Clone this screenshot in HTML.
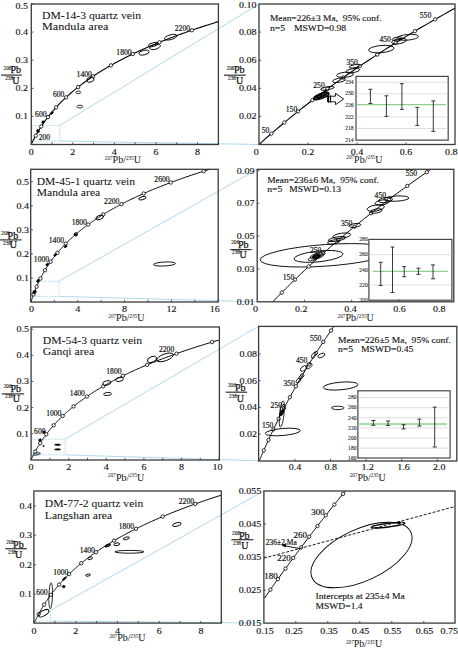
<!DOCTYPE html><html><head><meta charset="utf-8"><style>html,body{margin:0;padding:0;background:#fff;width:458px;height:649px;overflow:hidden}svg{display:block}</style></head><body><svg width="458" height="649" viewBox="0 0 458 649" font-family='"Liberation Serif", serif'>
<rect width="458" height="649" fill="#fff"/>
<line x1="59.70" y1="125.40" x2="259.00" y2="4.00" stroke="#a6d5ea" stroke-width="0.9"/>
<line x1="59.70" y1="141.10" x2="259.00" y2="144.50" stroke="#a6d5ea" stroke-width="0.9"/>
<rect x="31.8" y="125.4" width="27.9" height="15.7" fill="none" stroke="#a6d5ea" stroke-width="0.9" stroke-dasharray="1.6 1.2"/>
<polyline points="31.41,144.06 31.61,143.63 31.82,143.19 32.04,142.75 32.25,142.31 32.47,141.87 32.68,141.43 32.90,140.99 33.13,140.55 33.35,140.11 33.58,139.66 33.81,139.22 34.04,138.78 34.27,138.33 34.51,137.88 34.75,137.44 34.99,136.99 35.23,136.54 35.48,136.09 35.73,135.65 35.98,135.20 36.23,134.74 36.49,134.29 36.74,133.84 37.00,133.39 37.27,132.93 37.53,132.48 37.80,132.03 38.07,131.57 38.35,131.11 38.62,130.66 38.90,130.20 39.18,129.74 39.47,129.28 39.76,128.82 40.05,128.36 40.34,127.90 40.64,127.44 40.94,126.98 41.24,126.51 41.54,126.05 41.85,125.58 42.16,125.12 42.48,124.65 42.79,124.18 43.11,123.72 43.44,123.25 43.76,122.78 44.09,122.31 44.43,121.84 44.76,121.37 45.10,120.89 45.45,120.42 45.80,119.95 46.15,119.47 46.50,119.00 46.86,118.52 47.22,118.05 47.58,117.57 47.95,117.09 48.32,116.61 48.70,116.13 49.07,115.65 49.46,115.17 49.84,114.69 50.23,114.21 50.63,113.72 51.03,113.24 51.43,112.75 51.83,112.27 52.24,111.78 52.66,111.30 53.08,110.81 53.50,110.32 53.93,109.83 54.36,109.34 54.79,108.85 55.23,108.36 55.67,107.86 56.12,107.37 56.57,106.88 57.03,106.38 57.49,105.89 57.96,105.39 58.43,104.89 58.90,104.40 59.38,103.90 59.87,103.40 60.36,102.90 60.85,102.40 61.35,101.90 61.86,101.39 62.37,100.89 62.88,100.39 63.40,99.88 63.92,99.38 64.45,98.87 64.99,98.36 65.53,97.86 66.07,97.35 66.62,96.84 67.18,96.33 67.74,95.82 68.31,95.30 68.88,94.79 69.46,94.28 70.05,93.76 70.64,93.25 71.23,92.73 71.83,92.22 72.44,91.70 73.06,91.18 73.68,90.66 74.30,90.14 74.93,89.62 75.57,89.10 76.22,88.58 76.87,88.06 77.53,87.53 78.19,87.01 78.86,86.48 79.54,85.95 80.22,85.43 80.92,84.90 81.61,84.37 82.32,83.84 83.03,83.31 83.75,82.78 84.47,82.25 85.21,81.71 85.95,81.18 86.69,80.65 87.45,80.11 88.21,79.57 88.98,79.04 89.76,78.50 90.55,77.96 91.34,77.42 92.14,76.88 92.95,76.34 93.77,75.80 94.59,75.26 95.42,74.71 96.26,74.17 97.11,73.62 97.97,73.08 98.84,72.53 99.71,71.98 100.60,71.43 101.49,70.88 102.39,70.33 103.30,69.78 104.22,69.23 105.15,68.67 106.09,68.12 107.04,67.57 107.99,67.01 108.96,66.45 109.93,65.90 110.92,65.34 111.91,64.78 112.92,64.22 113.93,63.66 114.96,63.10 115.99,62.53 117.04,61.97 118.09,61.41 119.16,60.84 120.23,60.27 121.32,59.71 122.42,59.14 123.53,58.57 124.65,58.00 125.78,57.43 126.92,56.86 128.07,56.29 129.24,55.71 130.41,55.14 131.60,54.56 132.80,53.99 134.01,53.41 135.23,52.83 136.47,52.26 137.72,51.68 138.98,51.10 140.25,50.51 141.53,49.93 142.83,49.35 144.14,48.77 145.47,48.18 146.80,47.59 148.15,47.01 149.52,46.42 150.89,45.83 152.28,45.24 153.69,44.65 155.10,44.06 156.54,43.47 157.98,42.88 159.44,42.28 160.92,41.69 162.41,41.09 163.91,40.49 165.43,39.90 166.97,39.30 168.52,38.70 170.08,38.10 171.66,37.50 173.26,36.89 174.87,36.29 176.50,35.69 178.14,35.08 179.80,34.48 181.48,33.87 183.17,33.26 184.88,32.65 186.61,32.04 188.35,31.43 190.11,30.82 191.89,30.21 193.69,29.59 195.50,28.98 197.33,28.36 199.18,27.75 201.05,27.13 202.94,26.51 204.84,25.89 206.77,25.27 208.71,24.65 210.67,24.03 212.65,23.40 214.66,22.78 216.68,22.15 218.40,21.63" fill="none" stroke="#000" stroke-width="1.1"/>
<circle cx="35.73" cy="135.65" r="1.7" stroke="#000" stroke-width="0.8" fill="#fff"/>
<circle cx="41.24" cy="126.51" r="1.7" stroke="#000" stroke-width="0.8" fill="#fff"/>
<circle cx="47.95" cy="117.09" r="1.7" stroke="#000" stroke-width="0.8" fill="#fff"/>
<circle cx="56.12" cy="107.37" r="1.7" stroke="#000" stroke-width="0.8" fill="#fff"/>
<circle cx="66.07" cy="97.35" r="1.7" stroke="#000" stroke-width="0.8" fill="#fff"/>
<circle cx="78.19" cy="87.01" r="1.7" stroke="#000" stroke-width="0.8" fill="#fff"/>
<circle cx="92.95" cy="76.34" r="1.7" stroke="#000" stroke-width="0.8" fill="#fff"/>
<circle cx="110.92" cy="65.34" r="1.7" stroke="#000" stroke-width="0.8" fill="#fff"/>
<circle cx="132.80" cy="53.99" r="1.7" stroke="#000" stroke-width="0.8" fill="#fff"/>
<circle cx="159.44" cy="42.28" r="1.7" stroke="#000" stroke-width="0.8" fill="#fff"/>
<circle cx="191.89" cy="30.21" r="1.7" stroke="#000" stroke-width="0.8" fill="#fff"/>
<ellipse cx="170.70" cy="37.20" rx="6.50" ry="2.40" transform="rotate(-15 170.70 37.20)" stroke="#000" stroke-width="0.9" fill="none"/>
<ellipse cx="155.00" cy="46.90" rx="5.50" ry="2.40" transform="rotate(-15 155.00 46.90)" stroke="#000" stroke-width="0.9" fill="none"/>
<ellipse cx="153.20" cy="44.60" rx="5.00" ry="1.80" transform="rotate(-15 153.20 44.60)" stroke="#000" stroke-width="0.9" fill="none"/>
<ellipse cx="144.00" cy="52.60" rx="5.20" ry="2.20" transform="rotate(-12 144.00 52.60)" stroke="#000" stroke-width="0.9" fill="none"/>
<ellipse cx="90.40" cy="79.60" rx="3.70" ry="2.50" transform="rotate(-20 90.40 79.60)" stroke="#000" stroke-width="0.9" fill="none"/>
<ellipse cx="78.30" cy="92.40" rx="2.50" ry="1.30" transform="rotate(0 78.30 92.40)" stroke="#000" stroke-width="0.8" fill="none"/>
<ellipse cx="79.90" cy="106.60" rx="3.00" ry="1.40" transform="rotate(0 79.90 106.60)" stroke="#000" stroke-width="0.8" fill="none"/>
<ellipse cx="51.80" cy="113.00" rx="1.60" ry="1.00" transform="rotate(-40 51.80 113.00)" stroke="#000" stroke-width="0.8" fill="#000"/>
<ellipse cx="43.00" cy="122.00" rx="1.30" ry="1.00" transform="rotate(-50 43.00 122.00)" stroke="#000" stroke-width="0.8" fill="#000"/>
<ellipse cx="38.00" cy="131.00" rx="1.20" ry="1.60" transform="rotate(-30 38.00 131.00)" stroke="#000" stroke-width="0.8" fill="#000"/>
<rect x="31.30" y="4.00" width="187.10" height="140.50" stroke="#3a3a3a" stroke-width="1.3" fill="none"/>
<line x1="31.20" y1="144.50" x2="31.20" y2="142.30" stroke="#3a3a3a" stroke-width="0.8"/>
<line x1="51.99" y1="144.50" x2="51.99" y2="142.30" stroke="#3a3a3a" stroke-width="0.8"/>
<line x1="72.78" y1="144.50" x2="72.78" y2="142.30" stroke="#3a3a3a" stroke-width="0.8"/>
<line x1="93.57" y1="144.50" x2="93.57" y2="142.30" stroke="#3a3a3a" stroke-width="0.8"/>
<line x1="114.36" y1="144.50" x2="114.36" y2="142.30" stroke="#3a3a3a" stroke-width="0.8"/>
<line x1="135.15" y1="144.50" x2="135.15" y2="142.30" stroke="#3a3a3a" stroke-width="0.8"/>
<line x1="155.94" y1="144.50" x2="155.94" y2="142.30" stroke="#3a3a3a" stroke-width="0.8"/>
<line x1="176.73" y1="144.50" x2="176.73" y2="142.30" stroke="#3a3a3a" stroke-width="0.8"/>
<line x1="197.52" y1="144.50" x2="197.52" y2="142.30" stroke="#3a3a3a" stroke-width="0.8"/>
<line x1="218.31" y1="144.50" x2="218.31" y2="142.30" stroke="#3a3a3a" stroke-width="0.8"/>
<line x1="31.30" y1="116.40" x2="33.50" y2="116.40" stroke="#3a3a3a" stroke-width="0.8"/>
<line x1="31.30" y1="88.30" x2="33.50" y2="88.30" stroke="#3a3a3a" stroke-width="0.8"/>
<line x1="31.30" y1="60.20" x2="33.50" y2="60.20" stroke="#3a3a3a" stroke-width="0.8"/>
<line x1="31.30" y1="32.10" x2="33.50" y2="32.10" stroke="#3a3a3a" stroke-width="0.8"/>
<line x1="31.30" y1="4.00" x2="33.50" y2="4.00" stroke="#3a3a3a" stroke-width="0.8"/>
<text x="31.20" y="154.90" font-size="8.2" text-anchor="middle" font-weight="normal" fill="#111" textLength="5.00" lengthAdjust="spacingAndGlyphs" style="white-space:pre" stroke="#111" stroke-width="0.12">0</text>
<text x="72.78" y="154.90" font-size="8.2" text-anchor="middle" font-weight="normal" fill="#111" textLength="5.00" lengthAdjust="spacingAndGlyphs" style="white-space:pre" stroke="#111" stroke-width="0.12">2</text>
<text x="114.36" y="154.90" font-size="8.2" text-anchor="middle" font-weight="normal" fill="#111" textLength="5.00" lengthAdjust="spacingAndGlyphs" style="white-space:pre" stroke="#111" stroke-width="0.12">4</text>
<text x="155.94" y="154.90" font-size="8.2" text-anchor="middle" font-weight="normal" fill="#111" textLength="5.00" lengthAdjust="spacingAndGlyphs" style="white-space:pre" stroke="#111" stroke-width="0.12">6</text>
<text x="197.52" y="154.90" font-size="8.2" text-anchor="middle" font-weight="normal" fill="#111" textLength="5.00" lengthAdjust="spacingAndGlyphs" style="white-space:pre" stroke="#111" stroke-width="0.12">8</text>
<text x="27.90" y="119.30" font-size="8.2" text-anchor="end" font-weight="normal" fill="#111" textLength="12.50" lengthAdjust="spacingAndGlyphs" style="white-space:pre" stroke="#111" stroke-width="0.12">0.1</text>
<text x="27.90" y="91.20" font-size="8.2" text-anchor="end" font-weight="normal" fill="#111" textLength="12.50" lengthAdjust="spacingAndGlyphs" style="white-space:pre" stroke="#111" stroke-width="0.12">0.2</text>
<text x="27.90" y="63.10" font-size="8.2" text-anchor="end" font-weight="normal" fill="#111" textLength="12.50" lengthAdjust="spacingAndGlyphs" style="white-space:pre" stroke="#111" stroke-width="0.12">0.3</text>
<text x="27.90" y="35.00" font-size="8.2" text-anchor="end" font-weight="normal" fill="#111" textLength="12.50" lengthAdjust="spacingAndGlyphs" style="white-space:pre" stroke="#111" stroke-width="0.12">0.4</text>
<text x="27.90" y="8.70" font-size="8.2" text-anchor="end" font-weight="normal" fill="#111" textLength="12.50" lengthAdjust="spacingAndGlyphs" style="white-space:pre" stroke="#111" stroke-width="0.12">0.5</text>
<text x="42.00" y="19.30" font-size="10.2" text-anchor="start" font-weight="normal" fill="#111" textLength="99.00" lengthAdjust="spacingAndGlyphs" style="white-space:pre" stroke="#111" stroke-width="0.05">DM-14-3 quartz vein</text>
<text x="42.00" y="30.30" font-size="10.2" text-anchor="start" font-weight="normal" fill="#111" textLength="66.50" lengthAdjust="spacingAndGlyphs" style="white-space:pre" stroke="#111" stroke-width="0.05">Mandula area</text>
<text x="44.40" y="140.00" font-size="7.2" text-anchor="middle" font-weight="normal" fill="#111" textLength="11.45" lengthAdjust="spacingAndGlyphs" style="white-space:pre" stroke="#111" stroke-width="0.18">200</text>
<text x="40.80" y="117.00" font-size="7.2" text-anchor="middle" font-weight="normal" fill="#111" textLength="11.45" lengthAdjust="spacingAndGlyphs" style="white-space:pre" stroke="#111" stroke-width="0.18">600</text>
<text x="58.70" y="97.40" font-size="7.2" text-anchor="middle" font-weight="normal" fill="#111" textLength="11.45" lengthAdjust="spacingAndGlyphs" style="white-space:pre" stroke="#111" stroke-width="0.18">600</text>
<text x="84.20" y="76.80" font-size="7.2" text-anchor="middle" font-weight="normal" fill="#111" textLength="15.26" lengthAdjust="spacingAndGlyphs" style="white-space:pre" stroke="#111" stroke-width="0.18">1400</text>
<text x="124.00" y="54.60" font-size="7.2" text-anchor="middle" font-weight="normal" fill="#111" textLength="15.26" lengthAdjust="spacingAndGlyphs" style="white-space:pre" stroke="#111" stroke-width="0.18">1800</text>
<text x="182.40" y="31.00" font-size="7.2" text-anchor="middle" font-weight="normal" fill="#111" textLength="15.26" lengthAdjust="spacingAndGlyphs" style="white-space:pre" stroke="#111" stroke-width="0.18">2200</text>
<text x="3.50" y="69.60" font-size="5.3" text-anchor="start" font-weight="normal" fill="#111" style="white-space:pre" stroke="#111" stroke-width="0.1">206</text>
<text x="10.50" y="73.30" font-size="10" text-anchor="start" font-weight="normal" fill="#111" style="white-space:pre" stroke="#111" stroke-width="0.25">Pb</text>
<line x1="1.00" y1="75.10" x2="21.80" y2="75.10" stroke="#333" stroke-width="1.2"/>
<text x="5.20" y="80.10" font-size="5.3" text-anchor="start" font-weight="normal" fill="#111" style="white-space:pre" stroke="#111" stroke-width="0.1">238</text>
<text x="12.20" y="83.80" font-size="10" text-anchor="start" font-weight="normal" fill="#111" style="white-space:pre" stroke="#111" stroke-width="0.25">U</text>
<text x="104.80" y="163.40" font-size="10" fill="#111"><tspan font-size="5.2" dy="-3.8">207</tspan><tspan dy="3.8">Pb/</tspan><tspan font-size="5.2" dy="-3.8">235</tspan><tspan dy="3.8">U</tspan></text>
<polyline points="259.00,144.50 261.42,142.32 263.87,140.13 266.35,137.95 268.84,135.75 271.37,133.56 273.91,131.36 276.49,129.16 279.08,126.96 281.71,124.75 284.36,122.54 287.03,120.32 289.73,118.10 292.46,115.88 295.22,113.65 298.00,111.42 300.81,109.19 303.65,106.96 306.52,104.72 309.41,102.47 312.34,100.23 315.29,97.98 318.27,95.72 321.28,93.47 324.33,91.21 327.40,88.94 330.50,86.67 333.63,84.40 336.79,82.13 339.99,79.85 343.22,77.57 346.47,75.28 349.76,73.00 353.09,70.70 356.44,68.41 359.83,66.11 363.26,63.81 366.71,61.50 370.20,59.19 373.73,56.88 377.29,54.56 380.88,52.24 384.52,49.91 388.18,47.58 391.89,45.25 395.63,42.92 399.40,40.58 403.22,38.24 407.07,35.89 410.96,33.54 414.89,31.19 418.86,28.83 422.86,26.47 426.91,24.10 431.00,21.74 435.12,19.36 439.29,16.99 443.50,14.61 447.75,12.23 452.04,9.84 455.00,8.21" fill="none" stroke="#000" stroke-width="1.1"/>
<circle cx="271.37" cy="133.56" r="1.7" stroke="#000" stroke-width="0.8" fill="#fff"/>
<circle cx="284.36" cy="122.54" r="1.7" stroke="#000" stroke-width="0.8" fill="#fff"/>
<circle cx="298.00" cy="111.42" r="1.7" stroke="#000" stroke-width="0.8" fill="#fff"/>
<circle cx="312.34" cy="100.23" r="1.7" stroke="#000" stroke-width="0.8" fill="#fff"/>
<circle cx="327.40" cy="88.94" r="1.7" stroke="#000" stroke-width="0.8" fill="#fff"/>
<circle cx="343.22" cy="77.57" r="1.7" stroke="#000" stroke-width="0.8" fill="#fff"/>
<circle cx="359.83" cy="66.11" r="1.7" stroke="#000" stroke-width="0.8" fill="#fff"/>
<circle cx="377.29" cy="54.56" r="1.7" stroke="#000" stroke-width="0.8" fill="#fff"/>
<circle cx="395.63" cy="42.92" r="1.7" stroke="#000" stroke-width="0.8" fill="#fff"/>
<circle cx="414.89" cy="31.19" r="1.7" stroke="#000" stroke-width="0.8" fill="#fff"/>
<circle cx="435.12" cy="19.36" r="1.7" stroke="#000" stroke-width="0.8" fill="#fff"/>
<rect x="356.00" y="76.40" width="92.20" height="63.70" stroke="#444" stroke-width="1.2" fill="#fff"/>
<line x1="356.50" y1="128.52" x2="447.70" y2="128.52" stroke="#d0d0d0" stroke-width="0.7"/>
<line x1="356.50" y1="116.94" x2="447.70" y2="116.94" stroke="#d0d0d0" stroke-width="0.7"/>
<line x1="356.50" y1="93.77" x2="447.70" y2="93.77" stroke="#d0d0d0" stroke-width="0.7"/>
<line x1="356.50" y1="82.19" x2="447.70" y2="82.19" stroke="#d0d0d0" stroke-width="0.7"/>
<line x1="356.50" y1="104.60" x2="446.00" y2="104.60" stroke="#8fd08f" stroke-width="1.3"/>
<text x="353.60" y="141.80" font-size="5.6" text-anchor="end" font-weight="normal" fill="#222" textLength="8.40" lengthAdjust="spacingAndGlyphs" style="white-space:pre" stroke="#222" stroke-width="0.1">214</text>
<text x="353.60" y="130.22" font-size="5.6" text-anchor="end" font-weight="normal" fill="#222" textLength="8.40" lengthAdjust="spacingAndGlyphs" style="white-space:pre" stroke="#222" stroke-width="0.1">218</text>
<text x="353.60" y="118.64" font-size="5.6" text-anchor="end" font-weight="normal" fill="#222" textLength="8.40" lengthAdjust="spacingAndGlyphs" style="white-space:pre" stroke="#222" stroke-width="0.1">222</text>
<text x="353.60" y="107.05" font-size="5.6" text-anchor="end" font-weight="normal" fill="#222" textLength="8.40" lengthAdjust="spacingAndGlyphs" style="white-space:pre" stroke="#222" stroke-width="0.1">226</text>
<text x="353.60" y="95.47" font-size="5.6" text-anchor="end" font-weight="normal" fill="#222" textLength="8.40" lengthAdjust="spacingAndGlyphs" style="white-space:pre" stroke="#222" stroke-width="0.1">230</text>
<text x="353.60" y="83.89" font-size="5.6" text-anchor="end" font-weight="normal" fill="#222" textLength="8.40" lengthAdjust="spacingAndGlyphs" style="white-space:pre" stroke="#222" stroke-width="0.1">234</text>
<line x1="370.40" y1="89.30" x2="370.40" y2="103.50" stroke="#222" stroke-width="0.9"/>
<line x1="368.40" y1="89.30" x2="372.40" y2="89.30" stroke="#222" stroke-width="0.9"/>
<line x1="368.40" y1="103.50" x2="372.40" y2="103.50" stroke="#222" stroke-width="0.9"/>
<line x1="386.40" y1="95.80" x2="386.40" y2="116.40" stroke="#222" stroke-width="0.9"/>
<line x1="384.40" y1="95.80" x2="388.40" y2="95.80" stroke="#222" stroke-width="0.9"/>
<line x1="384.40" y1="116.40" x2="388.40" y2="116.40" stroke="#222" stroke-width="0.9"/>
<line x1="401.90" y1="83.70" x2="401.90" y2="109.40" stroke="#222" stroke-width="0.9"/>
<line x1="399.90" y1="83.70" x2="403.90" y2="83.70" stroke="#222" stroke-width="0.9"/>
<line x1="399.90" y1="109.40" x2="403.90" y2="109.40" stroke="#222" stroke-width="0.9"/>
<line x1="417.30" y1="107.40" x2="417.30" y2="125.40" stroke="#222" stroke-width="0.9"/>
<line x1="415.30" y1="107.40" x2="419.30" y2="107.40" stroke="#222" stroke-width="0.9"/>
<line x1="415.30" y1="125.40" x2="419.30" y2="125.40" stroke="#222" stroke-width="0.9"/>
<line x1="433.30" y1="100.90" x2="433.30" y2="131.30" stroke="#222" stroke-width="0.9"/>
<line x1="431.30" y1="100.90" x2="435.30" y2="100.90" stroke="#222" stroke-width="0.9"/>
<line x1="431.30" y1="131.30" x2="435.30" y2="131.30" stroke="#222" stroke-width="0.9"/>
<ellipse cx="381.30" cy="49.10" rx="12.80" ry="3.60" transform="rotate(-5 381.30 49.10)" stroke="#000" stroke-width="0.9" fill="none"/>
<ellipse cx="407.80" cy="37.30" rx="10.80" ry="2.80" transform="rotate(-5 407.80 37.30)" stroke="#000" stroke-width="0.9" fill="none"/>
<ellipse cx="399.00" cy="41.20" rx="7.50" ry="2.50" transform="rotate(-10 399.00 41.20)" stroke="#000" stroke-width="0.9" fill="none"/>
<ellipse cx="397.00" cy="38.70" rx="5.00" ry="1.50" transform="rotate(-10 397.00 38.70)" stroke="#000" stroke-width="0.9" fill="none"/>
<ellipse cx="354.70" cy="66.20" rx="5.50" ry="1.50" transform="rotate(-10 354.70 66.20)" stroke="#000" stroke-width="0.9" fill="none"/>
<ellipse cx="352.80" cy="70.70" rx="7.00" ry="2.00" transform="rotate(-10 352.80 70.70)" stroke="#000" stroke-width="0.9" fill="none"/>
<ellipse cx="345.00" cy="74.80" rx="8.50" ry="2.50" transform="rotate(-5 345.00 74.80)" stroke="#000" stroke-width="0.9" fill="none"/>
<ellipse cx="339.00" cy="80.30" rx="6.50" ry="2.00" transform="rotate(-10 339.00 80.30)" stroke="#000" stroke-width="0.9" fill="none"/>
<ellipse cx="327.50" cy="88.30" rx="7.00" ry="1.50" transform="rotate(-10 327.50 88.30)" stroke="#000" stroke-width="0.9" fill="none"/>
<ellipse cx="321.40" cy="96.00" rx="8.00" ry="2.50" transform="rotate(-20 321.40 96.00)" stroke="#000" stroke-width="1.4" fill="none"/>
<ellipse cx="322.00" cy="95.00" rx="6.00" ry="1.80" transform="rotate(-25 322.00 95.00)" stroke="#000" stroke-width="1.4" fill="#222"/>
<ellipse cx="318.00" cy="97.00" rx="4.00" ry="1.50" transform="rotate(-25 318.00 97.00)" stroke="#000" stroke-width="1.2" fill="none"/>
<path d="M327.5,96.2 L335.5,96.2 L335.5,93.3 L343.6,99 L335.5,104.7 L335.5,101.8 L327.5,101.8 Z" fill="#fff" stroke="#000" stroke-width="0.9"/>
<line x1="328.50" y1="95.50" x2="328.50" y2="102.50" stroke="#000" stroke-width="1.4"/>
<line x1="330.60" y1="95.50" x2="330.60" y2="102.50" stroke="#000" stroke-width="1.0"/>
<rect x="259.00" y="4.00" width="196.00" height="140.50" stroke="#3a3a3a" stroke-width="1.3" fill="none"/>
<line x1="308.00" y1="144.50" x2="308.00" y2="142.30" stroke="#3a3a3a" stroke-width="0.8"/>
<line x1="357.00" y1="144.50" x2="357.00" y2="142.30" stroke="#3a3a3a" stroke-width="0.8"/>
<line x1="406.00" y1="144.50" x2="406.00" y2="142.30" stroke="#3a3a3a" stroke-width="0.8"/>
<line x1="259.00" y1="116.40" x2="261.20" y2="116.40" stroke="#3a3a3a" stroke-width="0.8"/>
<line x1="259.00" y1="88.30" x2="261.20" y2="88.30" stroke="#3a3a3a" stroke-width="0.8"/>
<line x1="259.00" y1="60.20" x2="261.20" y2="60.20" stroke="#3a3a3a" stroke-width="0.8"/>
<line x1="259.00" y1="32.10" x2="261.20" y2="32.10" stroke="#3a3a3a" stroke-width="0.8"/>
<text x="256.20" y="154.90" font-size="8.2" text-anchor="middle" font-weight="normal" fill="#111" textLength="5.00" lengthAdjust="spacingAndGlyphs" style="white-space:pre" stroke="#111" stroke-width="0.12">0</text>
<text x="308.00" y="154.90" font-size="8.2" text-anchor="middle" font-weight="normal" fill="#111" textLength="12.50" lengthAdjust="spacingAndGlyphs" style="white-space:pre" stroke="#111" stroke-width="0.12">0.2</text>
<text x="357.00" y="154.90" font-size="8.2" text-anchor="middle" font-weight="normal" fill="#111" textLength="12.50" lengthAdjust="spacingAndGlyphs" style="white-space:pre" stroke="#111" stroke-width="0.12">0.4</text>
<text x="406.00" y="154.90" font-size="8.2" text-anchor="middle" font-weight="normal" fill="#111" textLength="12.50" lengthAdjust="spacingAndGlyphs" style="white-space:pre" stroke="#111" stroke-width="0.12">0.6</text>
<text x="451.30" y="154.90" font-size="8.2" text-anchor="middle" font-weight="normal" fill="#111" textLength="12.50" lengthAdjust="spacingAndGlyphs" style="white-space:pre" stroke="#111" stroke-width="0.12">0.8</text>
<text x="256.60" y="119.30" font-size="8.2" text-anchor="end" font-weight="normal" fill="#111" textLength="17.51" lengthAdjust="spacingAndGlyphs" style="white-space:pre" stroke="#111" stroke-width="0.12">0.02</text>
<text x="256.60" y="91.20" font-size="8.2" text-anchor="end" font-weight="normal" fill="#111" textLength="17.51" lengthAdjust="spacingAndGlyphs" style="white-space:pre" stroke="#111" stroke-width="0.12">0.04</text>
<text x="256.60" y="63.10" font-size="8.2" text-anchor="end" font-weight="normal" fill="#111" textLength="17.51" lengthAdjust="spacingAndGlyphs" style="white-space:pre" stroke="#111" stroke-width="0.12">0.06</text>
<text x="256.60" y="35.00" font-size="8.2" text-anchor="end" font-weight="normal" fill="#111" textLength="17.51" lengthAdjust="spacingAndGlyphs" style="white-space:pre" stroke="#111" stroke-width="0.12">0.08</text>
<text x="256.60" y="7.60" font-size="8.2" text-anchor="end" font-weight="normal" fill="#111" textLength="17.51" lengthAdjust="spacingAndGlyphs" style="white-space:pre" stroke="#111" stroke-width="0.12">0.10</text>
<text x="269.90" y="21.10" font-size="8.7" text-anchor="start" font-weight="normal" fill="#111" textLength="111.60" lengthAdjust="spacingAndGlyphs" style="white-space:pre" stroke="#111" stroke-width="0.12">Mean=226±3 Ma,  95% conf.</text>
<text x="269.90" y="30.90" font-size="8.7" text-anchor="start" font-weight="normal" fill="#111" textLength="15.24" lengthAdjust="spacingAndGlyphs" style="white-space:pre" stroke="#111" stroke-width="0.12">n=5</text>
<text x="293.90" y="30.90" font-size="8.7" text-anchor="start" font-weight="normal" fill="#111" textLength="52.30" lengthAdjust="spacingAndGlyphs" style="white-space:pre" stroke="#111" stroke-width="0.12">MSWD=0.98</text>
<text x="265.60" y="132.80" font-size="7.2" text-anchor="middle" font-weight="normal" fill="#111" textLength="7.63" lengthAdjust="spacingAndGlyphs" style="white-space:pre" stroke="#111" stroke-width="0.18">50</text>
<text x="291.50" y="111.50" font-size="7.2" text-anchor="middle" font-weight="normal" fill="#111" textLength="11.45" lengthAdjust="spacingAndGlyphs" style="white-space:pre" stroke="#111" stroke-width="0.18">150</text>
<text x="319.00" y="88.00" font-size="7.2" text-anchor="middle" font-weight="normal" fill="#111" textLength="11.45" lengthAdjust="spacingAndGlyphs" style="white-space:pre" stroke="#111" stroke-width="0.18">250</text>
<text x="352.20" y="65.20" font-size="7.2" text-anchor="middle" font-weight="normal" fill="#111" textLength="11.45" lengthAdjust="spacingAndGlyphs" style="white-space:pre" stroke="#111" stroke-width="0.18">350</text>
<text x="385.20" y="41.70" font-size="7.2" text-anchor="middle" font-weight="normal" fill="#111" textLength="11.45" lengthAdjust="spacingAndGlyphs" style="white-space:pre" stroke="#111" stroke-width="0.18">450</text>
<text x="425.50" y="18.00" font-size="7.2" text-anchor="middle" font-weight="normal" fill="#111" textLength="11.45" lengthAdjust="spacingAndGlyphs" style="white-space:pre" stroke="#111" stroke-width="0.18">550</text>
<text x="226.50" y="69.60" font-size="5.3" text-anchor="start" font-weight="normal" fill="#111" style="white-space:pre" stroke="#111" stroke-width="0.1">206</text>
<text x="234.00" y="73.30" font-size="10" text-anchor="start" font-weight="normal" fill="#111" style="white-space:pre" stroke="#111" stroke-width="0.25">Pb</text>
<line x1="224.00" y1="75.20" x2="245.80" y2="75.20" stroke="#333" stroke-width="1.2"/>
<text x="228.00" y="80.00" font-size="5.3" text-anchor="start" font-weight="normal" fill="#111" style="white-space:pre" stroke="#111" stroke-width="0.1">238</text>
<text x="236.00" y="83.70" font-size="10" text-anchor="start" font-weight="normal" fill="#111" style="white-space:pre" stroke="#111" stroke-width="0.25">U</text>
<text x="346.30" y="163.10" font-size="10" fill="#111"><tspan font-size="5.2" dy="-3.8">207</tspan><tspan dy="3.8">Pb/</tspan><tspan font-size="5.2" dy="-3.8">235</tspan><tspan dy="3.8">U</tspan></text>
<line x1="58.80" y1="281.30" x2="257.20" y2="169.30" stroke="#a6d5ea" stroke-width="0.9"/>
<line x1="58.80" y1="296.40" x2="257.20" y2="301.80" stroke="#a6d5ea" stroke-width="0.9"/>
<rect x="31.5" y="281.3" width="27.3" height="15.1" fill="none" stroke="#a6d5ea" stroke-width="0.9" stroke-dasharray="1.6 1.2"/>
<polyline points="31.00,302.00 31.12,301.63 31.23,301.25 31.35,300.88 31.47,300.50 31.59,300.13 31.71,299.75 31.84,299.37 31.96,299.00 32.08,298.62 32.21,298.24 32.34,297.86 32.47,297.48 32.60,297.10 32.73,296.72 32.86,296.34 33.00,295.96 33.13,295.57 33.27,295.19 33.41,294.81 33.55,294.42 33.69,294.04 33.83,293.65 33.97,293.26 34.12,292.88 34.27,292.49 34.41,292.10 34.56,291.71 34.72,291.32 34.87,290.93 35.02,290.54 35.18,290.15 35.33,289.76 35.49,289.37 35.65,288.97 35.82,288.58 35.98,288.19 36.14,287.79 36.31,287.40 36.48,287.00 36.65,286.60 36.82,286.21 36.99,285.81 37.17,285.41 37.35,285.01 37.52,284.61 37.70,284.21 37.89,283.81 38.07,283.41 38.26,283.01 38.44,282.60 38.63,282.20 38.83,281.80 39.02,281.39 39.21,280.99 39.41,280.58 39.61,280.17 39.81,279.77 40.01,279.36 40.22,278.95 40.43,278.54 40.63,278.13 40.85,277.72 41.06,277.31 41.27,276.90 41.49,276.49 41.71,276.07 41.93,275.66 42.16,275.24 42.38,274.83 42.61,274.41 42.84,274.00 43.08,273.58 43.31,273.16 43.55,272.75 43.79,272.33 44.03,271.91 44.28,271.49 44.52,271.07 44.77,270.64 45.03,270.22 45.28,269.80 45.54,269.38 45.80,268.95 46.06,268.53 46.32,268.10 46.59,267.68 46.86,267.25 47.13,266.82 47.41,266.39 47.69,265.97 47.97,265.54 48.25,265.11 48.54,264.68 48.83,264.25 49.12,263.81 49.42,263.38 49.71,262.95 50.01,262.51 50.32,262.08 50.63,261.64 50.94,261.21 51.25,260.77 51.57,260.33 51.88,259.90 52.21,259.46 52.53,259.02 52.86,258.58 53.19,258.14 53.53,257.69 53.87,257.25 54.21,256.81 54.56,256.37 54.90,255.92 55.26,255.48 55.61,255.03 55.97,254.59 56.33,254.14 56.70,253.69 57.07,253.24 57.45,252.79 57.82,252.34 58.20,251.89 58.59,251.44 58.98,250.99 59.37,250.54 59.77,250.08 60.17,249.63 60.57,249.18 60.98,248.72 61.39,248.26 61.81,247.81 62.23,247.35 62.66,246.89 63.08,246.43 63.52,245.97 63.96,245.51 64.40,245.05 64.84,244.59 65.29,244.13 65.75,243.66 66.21,243.20 66.67,242.74 67.14,242.27 67.62,241.80 68.09,241.34 68.58,240.87 69.07,240.40 69.56,239.93 70.06,239.46 70.56,238.99 71.06,238.52 71.58,238.05 72.09,237.58 72.62,237.10 73.14,236.63 73.68,236.15 74.22,235.68 74.76,235.20 75.31,234.73 75.86,234.25 76.42,233.77 76.99,233.29 77.56,232.81 78.14,232.33 78.72,231.85 79.31,231.36 79.90,230.88 80.50,230.40 81.11,229.91 81.72,229.43 82.33,228.94 82.96,228.46 83.59,227.97 84.22,227.48 84.87,226.99 85.52,226.50 86.17,226.01 86.83,225.52 87.50,225.03 88.18,224.53 88.86,224.04 89.55,223.55 90.24,223.05 90.94,222.55 91.65,222.06 92.37,221.56 93.09,221.06 93.82,220.56 94.56,220.06 95.31,219.56 96.06,219.06 96.82,218.56 97.58,218.06 98.36,217.55 99.14,217.05 99.93,216.54 100.73,216.04 101.54,215.53 102.35,215.02 103.17,214.51 104.00,214.01 104.84,213.50 105.69,212.98 106.54,212.47 107.41,211.96 108.28,211.45 109.16,210.93 110.05,210.42 110.95,209.90 111.85,209.39 112.77,208.87 113.69,208.35 114.63,207.83 115.57,207.31 116.52,206.79 117.49,206.27 118.46,205.75 119.44,205.23 120.43,204.70 121.43,204.18 122.44,203.65 123.46,203.13 124.49,202.60 125.53,202.07 126.59,201.54 127.65,201.02 128.72,200.49 129.80,199.95 130.90,199.42 132.00,198.89 133.12,198.36 134.24,197.82 135.38,197.29 136.53,196.75 137.69,196.21 138.86,195.68 140.05,195.14 141.24,194.60 142.45,194.06 143.67,193.52 144.90,192.98 146.14,192.43 147.40,191.89 148.66,191.35 149.94,190.80 151.24,190.25 152.54,189.71 153.86,189.16 155.19,188.61 156.54,188.06 157.90,187.51 159.27,186.96 160.65,186.41 162.05,185.86 163.46,185.30 164.89,184.75 166.33,184.19 167.79,183.64 169.26,183.08 170.74,182.52 172.24,181.96 173.75,181.40 175.28,180.84 176.83,180.28 178.39,179.72 179.96,179.16 181.55,178.59 183.16,178.03 184.78,177.46 186.42,176.89 188.07,176.33 189.74,175.76 191.43,175.19 193.13,174.62 194.85,174.05 196.59,173.47 198.34,172.90 200.11,172.33 201.90,171.75 203.71,171.18 205.54,170.60 207.38,170.02 209.24,169.45 209.71,169.30" fill="none" stroke="#000" stroke-width="1.0"/>
<circle cx="33.55" cy="294.42" r="1.7" stroke="#000" stroke-width="0.8" fill="#fff"/>
<circle cx="36.65" cy="286.60" r="1.7" stroke="#000" stroke-width="0.8" fill="#fff"/>
<circle cx="40.43" cy="278.54" r="1.7" stroke="#000" stroke-width="0.8" fill="#fff"/>
<circle cx="45.03" cy="270.22" r="1.7" stroke="#000" stroke-width="0.8" fill="#fff"/>
<circle cx="50.63" cy="261.64" r="1.7" stroke="#000" stroke-width="0.8" fill="#fff"/>
<circle cx="57.45" cy="252.79" r="1.7" stroke="#000" stroke-width="0.8" fill="#fff"/>
<circle cx="65.75" cy="243.66" r="1.7" stroke="#000" stroke-width="0.8" fill="#fff"/>
<circle cx="75.86" cy="234.25" r="1.7" stroke="#000" stroke-width="0.8" fill="#fff"/>
<circle cx="88.18" cy="224.53" r="1.7" stroke="#000" stroke-width="0.8" fill="#fff"/>
<circle cx="103.17" cy="214.51" r="1.7" stroke="#000" stroke-width="0.8" fill="#fff"/>
<circle cx="121.43" cy="204.18" r="1.7" stroke="#000" stroke-width="0.8" fill="#fff"/>
<circle cx="143.67" cy="193.52" r="1.7" stroke="#000" stroke-width="0.8" fill="#fff"/>
<circle cx="170.74" cy="182.52" r="1.7" stroke="#000" stroke-width="0.8" fill="#fff"/>
<circle cx="203.71" cy="171.18" r="1.7" stroke="#000" stroke-width="0.8" fill="#fff"/>
<ellipse cx="164.50" cy="264.00" rx="11.00" ry="2.00" transform="rotate(-3 164.50 264.00)" stroke="#000" stroke-width="0.9" fill="none"/>
<ellipse cx="142.40" cy="198.20" rx="3.80" ry="1.50" transform="rotate(-15 142.40 198.20)" stroke="#000" stroke-width="0.9" fill="none"/>
<ellipse cx="99.70" cy="217.40" rx="4.00" ry="2.00" transform="rotate(-20 99.70 217.40)" stroke="#000" stroke-width="0.9" fill="none"/>
<ellipse cx="75.70" cy="234.70" rx="1.50" ry="1.10" transform="rotate(0 75.70 234.70)" stroke="#000" stroke-width="0.7" fill="#000"/>
<ellipse cx="65.60" cy="246.40" rx="1.50" ry="1.00" transform="rotate(-40 65.60 246.40)" stroke="#000" stroke-width="0.8" fill="#000"/>
<ellipse cx="55.20" cy="254.90" rx="1.50" ry="1.00" transform="rotate(-40 55.20 254.90)" stroke="#000" stroke-width="0.8" fill="#000"/>
<ellipse cx="47.30" cy="264.50" rx="1.50" ry="1.00" transform="rotate(-40 47.30 264.50)" stroke="#000" stroke-width="0.8" fill="#000"/>
<ellipse cx="38.00" cy="281.00" rx="1.50" ry="1.20" transform="rotate(-50 38.00 281.00)" stroke="#000" stroke-width="0.8" fill="#000"/>
<ellipse cx="34.50" cy="292.00" rx="1.80" ry="1.50" transform="rotate(-50 34.50 292.00)" stroke="#000" stroke-width="0.8" fill="#000"/>
<rect x="30.70" y="169.30" width="187.50" height="132.70" stroke="#3a3a3a" stroke-width="1.3" fill="none"/>
<line x1="31.00" y1="302.00" x2="31.00" y2="299.80" stroke="#3a3a3a" stroke-width="0.8"/>
<line x1="54.40" y1="302.00" x2="54.40" y2="299.80" stroke="#3a3a3a" stroke-width="0.8"/>
<line x1="77.80" y1="302.00" x2="77.80" y2="299.80" stroke="#3a3a3a" stroke-width="0.8"/>
<line x1="101.20" y1="302.00" x2="101.20" y2="299.80" stroke="#3a3a3a" stroke-width="0.8"/>
<line x1="124.60" y1="302.00" x2="124.60" y2="299.80" stroke="#3a3a3a" stroke-width="0.8"/>
<line x1="148.00" y1="302.00" x2="148.00" y2="299.80" stroke="#3a3a3a" stroke-width="0.8"/>
<line x1="171.40" y1="302.00" x2="171.40" y2="299.80" stroke="#3a3a3a" stroke-width="0.8"/>
<line x1="194.80" y1="302.00" x2="194.80" y2="299.80" stroke="#3a3a3a" stroke-width="0.8"/>
<line x1="218.20" y1="302.00" x2="218.20" y2="299.80" stroke="#3a3a3a" stroke-width="0.8"/>
<line x1="30.70" y1="277.95" x2="32.90" y2="277.95" stroke="#3a3a3a" stroke-width="0.8"/>
<line x1="30.70" y1="253.90" x2="32.90" y2="253.90" stroke="#3a3a3a" stroke-width="0.8"/>
<line x1="30.70" y1="229.85" x2="32.90" y2="229.85" stroke="#3a3a3a" stroke-width="0.8"/>
<line x1="30.70" y1="205.80" x2="32.90" y2="205.80" stroke="#3a3a3a" stroke-width="0.8"/>
<line x1="30.70" y1="181.75" x2="32.90" y2="181.75" stroke="#3a3a3a" stroke-width="0.8"/>
<text x="31.50" y="311.80" font-size="8.2" text-anchor="middle" font-weight="normal" fill="#111" textLength="5.00" lengthAdjust="spacingAndGlyphs" style="white-space:pre" stroke="#111" stroke-width="0.12">0</text>
<text x="77.80" y="311.80" font-size="8.2" text-anchor="middle" font-weight="normal" fill="#111" textLength="5.00" lengthAdjust="spacingAndGlyphs" style="white-space:pre" stroke="#111" stroke-width="0.12">4</text>
<text x="124.60" y="311.80" font-size="8.2" text-anchor="middle" font-weight="normal" fill="#111" textLength="5.00" lengthAdjust="spacingAndGlyphs" style="white-space:pre" stroke="#111" stroke-width="0.12">8</text>
<text x="171.40" y="311.80" font-size="8.2" text-anchor="middle" font-weight="normal" fill="#111" textLength="10.00" lengthAdjust="spacingAndGlyphs" style="white-space:pre" stroke="#111" stroke-width="0.12">12</text>
<text x="214.70" y="311.80" font-size="8.2" text-anchor="middle" font-weight="normal" fill="#111" textLength="10.00" lengthAdjust="spacingAndGlyphs" style="white-space:pre" stroke="#111" stroke-width="0.12">16</text>
<text x="28.90" y="280.85" font-size="8.2" text-anchor="end" font-weight="normal" fill="#111" textLength="12.50" lengthAdjust="spacingAndGlyphs" style="white-space:pre" stroke="#111" stroke-width="0.12">0.1</text>
<text x="28.90" y="256.80" font-size="8.2" text-anchor="end" font-weight="normal" fill="#111" textLength="12.50" lengthAdjust="spacingAndGlyphs" style="white-space:pre" stroke="#111" stroke-width="0.12">0.2</text>
<text x="28.90" y="232.75" font-size="8.2" text-anchor="end" font-weight="normal" fill="#111" textLength="12.50" lengthAdjust="spacingAndGlyphs" style="white-space:pre" stroke="#111" stroke-width="0.12">0.3</text>
<text x="28.90" y="208.70" font-size="8.2" text-anchor="end" font-weight="normal" fill="#111" textLength="12.50" lengthAdjust="spacingAndGlyphs" style="white-space:pre" stroke="#111" stroke-width="0.12">0.4</text>
<text x="28.90" y="184.65" font-size="8.2" text-anchor="end" font-weight="normal" fill="#111" textLength="12.50" lengthAdjust="spacingAndGlyphs" style="white-space:pre" stroke="#111" stroke-width="0.12">0.5</text>
<text x="36.70" y="184.70" font-size="10.2" text-anchor="start" font-weight="normal" fill="#111" textLength="98.40" lengthAdjust="spacingAndGlyphs" style="white-space:pre" stroke="#111" stroke-width="0.05">DM-45-1 quartz vein</text>
<text x="36.70" y="196.20" font-size="10.2" text-anchor="start" font-weight="normal" fill="#111" textLength="63.50" lengthAdjust="spacingAndGlyphs" style="white-space:pre" stroke="#111" stroke-width="0.05">Mandula area</text>
<text x="41.50" y="261.50" font-size="7.2" text-anchor="middle" font-weight="normal" fill="#111" textLength="15.26" lengthAdjust="spacingAndGlyphs" style="white-space:pre" stroke="#111" stroke-width="0.18">1000</text>
<text x="56.40" y="243.40" font-size="7.2" text-anchor="middle" font-weight="normal" fill="#111" textLength="15.26" lengthAdjust="spacingAndGlyphs" style="white-space:pre" stroke="#111" stroke-width="0.18">1400</text>
<text x="79.30" y="224.50" font-size="7.2" text-anchor="middle" font-weight="normal" fill="#111" textLength="15.26" lengthAdjust="spacingAndGlyphs" style="white-space:pre" stroke="#111" stroke-width="0.18">1800</text>
<text x="111.70" y="204.00" font-size="7.2" text-anchor="middle" font-weight="normal" fill="#111" textLength="15.26" lengthAdjust="spacingAndGlyphs" style="white-space:pre" stroke="#111" stroke-width="0.18">2200</text>
<text x="162.00" y="182.00" font-size="7.2" text-anchor="middle" font-weight="normal" fill="#111" textLength="15.26" lengthAdjust="spacingAndGlyphs" style="white-space:pre" stroke="#111" stroke-width="0.18">2600</text>
<text x="1.30" y="234.90" font-size="5.3" text-anchor="start" font-weight="normal" fill="#111" style="white-space:pre" stroke="#111" stroke-width="0.1">206</text>
<text x="7.60" y="238.60" font-size="10" text-anchor="start" font-weight="normal" fill="#111" style="white-space:pre" stroke="#111" stroke-width="0.25">Pb</text>
<line x1="0.00" y1="239.90" x2="21.60" y2="239.90" stroke="#333" stroke-width="1.2"/>
<text x="3.00" y="244.70" font-size="5.3" text-anchor="start" font-weight="normal" fill="#111" style="white-space:pre" stroke="#111" stroke-width="0.1">238</text>
<text x="9.80" y="248.40" font-size="10" text-anchor="start" font-weight="normal" fill="#111" style="white-space:pre" stroke="#111" stroke-width="0.25">U</text>
<text x="108.30" y="321.40" font-size="10" fill="#111"><tspan font-size="5.2" dy="-3.8">207</tspan><tspan dy="3.8">Pb/</tspan><tspan font-size="5.2" dy="-3.8">235</tspan><tspan dy="3.8">U</tspan></text>
<ellipse cx="326.00" cy="255.30" rx="66.00" ry="10.80" transform="rotate(-4 326.00 255.30)" stroke="#000" stroke-width="0.9" fill="none"/>
<ellipse cx="318.50" cy="256.40" rx="24.50" ry="5.40" transform="rotate(-6 318.50 256.40)" stroke="#000" stroke-width="0.9" fill="none"/>
<polyline points="272.98,301.58 274.22,300.29 275.46,299.01 276.71,297.72 277.97,296.43 279.24,295.14 280.51,293.85 281.78,292.56 283.07,291.27 284.36,289.98 285.65,288.68 286.96,287.39 288.26,286.09 289.58,284.79 290.90,283.49 292.23,282.19 293.57,280.89 294.91,279.59 296.25,278.29 297.61,276.99 298.97,275.68 300.34,274.38 301.71,273.07 303.10,271.76 304.48,270.45 305.88,269.14 307.28,267.83 308.69,266.52 310.11,265.21 311.53,263.90 312.96,262.58 314.40,261.26 315.84,259.95 317.29,258.63 318.75,257.31 320.22,255.99 321.69,254.67 323.17,253.35 324.66,252.03 326.16,250.70 327.66,249.38 329.17,248.05 330.69,246.72 332.21,245.40 333.74,244.07 335.28,242.74 336.83,241.41 338.38,240.07 339.95,238.74 341.52,237.41 343.10,236.07 344.68,234.74 346.28,233.40 347.88,232.06 349.49,230.72 351.11,229.38 352.73,228.04 354.36,226.70 356.01,225.35 357.66,224.01 359.31,222.66 360.98,221.32 362.65,219.97 364.34,218.62 366.03,217.27 367.73,215.92 369.43,214.57 371.15,213.21 372.87,211.86 374.61,210.51 376.35,209.15 378.10,207.79 379.86,206.43 381.63,205.07 383.40,203.71 385.19,202.35 386.98,200.99 388.78,199.63 390.60,198.26 392.42,196.90 394.25,195.53 396.08,194.16 397.93,192.79 399.79,191.42 401.65,190.05 403.53,188.68 405.41,187.31 407.31,185.93 409.21,184.56 411.12,183.18 413.04,181.81 414.98,180.43 416.92,179.05 418.87,177.67 420.83,176.29 422.80,174.90 424.78,173.52 426.77,172.13 428.77,170.75 430.77,169.36 430.86,169.30" fill="none" stroke="#000" stroke-width="1.0"/>
<circle cx="281.78" cy="292.56" r="1.7" stroke="#000" stroke-width="0.8" fill="#fff"/>
<circle cx="294.91" cy="279.59" r="1.7" stroke="#000" stroke-width="0.8" fill="#fff"/>
<circle cx="308.69" cy="266.52" r="1.7" stroke="#000" stroke-width="0.8" fill="#fff"/>
<circle cx="323.17" cy="253.35" r="1.7" stroke="#000" stroke-width="0.8" fill="#fff"/>
<circle cx="338.38" cy="240.07" r="1.7" stroke="#000" stroke-width="0.8" fill="#fff"/>
<circle cx="354.36" cy="226.70" r="1.7" stroke="#000" stroke-width="0.8" fill="#fff"/>
<circle cx="371.15" cy="213.21" r="1.7" stroke="#000" stroke-width="0.8" fill="#fff"/>
<circle cx="388.78" cy="199.63" r="1.7" stroke="#000" stroke-width="0.8" fill="#fff"/>
<circle cx="407.31" cy="185.93" r="1.7" stroke="#000" stroke-width="0.8" fill="#fff"/>
<circle cx="426.77" cy="172.13" r="1.7" stroke="#000" stroke-width="0.8" fill="#fff"/>
<ellipse cx="396.40" cy="198.60" rx="12.50" ry="2.60" transform="rotate(-3 396.40 198.60)" stroke="#000" stroke-width="0.9" fill="none"/>
<ellipse cx="385.50" cy="200.10" rx="7.00" ry="2.50" transform="rotate(-8 385.50 200.10)" stroke="#000" stroke-width="0.9" fill="none"/>
<ellipse cx="382.00" cy="202.50" rx="7.00" ry="2.50" transform="rotate(-10 382.00 202.50)" stroke="#000" stroke-width="0.9" fill="none"/>
<ellipse cx="375.70" cy="208.00" rx="8.70" ry="3.00" transform="rotate(-10 375.70 208.00)" stroke="#000" stroke-width="0.9" fill="none"/>
<ellipse cx="376.30" cy="211.00" rx="6.00" ry="2.00" transform="rotate(-10 376.30 211.00)" stroke="#000" stroke-width="0.9" fill="none"/>
<ellipse cx="341.80" cy="235.70" rx="9.00" ry="2.50" transform="rotate(-8 341.80 235.70)" stroke="#000" stroke-width="0.9" fill="none"/>
<ellipse cx="333.50" cy="242.00" rx="6.00" ry="2.00" transform="rotate(-10 333.50 242.00)" stroke="#000" stroke-width="0.9" fill="none"/>
<ellipse cx="337.00" cy="239.00" rx="9.00" ry="2.00" transform="rotate(-10 337.00 239.00)" stroke="#000" stroke-width="0.9" fill="none"/>
<ellipse cx="354.90" cy="225.40" rx="6.00" ry="1.80" transform="rotate(-8 354.90 225.40)" stroke="#000" stroke-width="0.9" fill="none"/>
<ellipse cx="316.50" cy="256.40" rx="4.00" ry="1.60" transform="rotate(-25 316.50 256.40)" stroke="#000" stroke-width="1.2" fill="#222"/>
<ellipse cx="314.00" cy="258.00" rx="6.00" ry="2.00" transform="rotate(-20 314.00 258.00)" stroke="#000" stroke-width="0.8" fill="none"/>
<ellipse cx="319.00" cy="254.50" rx="6.00" ry="2.20" transform="rotate(-20 319.00 254.50)" stroke="#000" stroke-width="0.8" fill="none"/>
<ellipse cx="317.00" cy="256.00" rx="7.00" ry="2.60" transform="rotate(-15 317.00 256.00)" stroke="#000" stroke-width="0.8" fill="none"/>
<rect x="368.90" y="239.40" width="83.00" height="60.80" stroke="#444" stroke-width="1.2" fill="#fff"/>
<line x1="369.40" y1="285.00" x2="451.40" y2="285.00" stroke="#d0d0d0" stroke-width="0.7"/>
<line x1="369.40" y1="254.60" x2="451.40" y2="254.60" stroke="#d0d0d0" stroke-width="0.7"/>
<line x1="372.90" y1="271.30" x2="447.90" y2="271.30" stroke="#8fd08f" stroke-width="1.3"/>
<text x="367.70" y="301.90" font-size="5.6" text-anchor="end" font-weight="normal" fill="#222" textLength="8.40" lengthAdjust="spacingAndGlyphs" style="white-space:pre" stroke="#222" stroke-width="0.1">200</text>
<text x="367.70" y="286.70" font-size="5.6" text-anchor="end" font-weight="normal" fill="#222" textLength="8.40" lengthAdjust="spacingAndGlyphs" style="white-space:pre" stroke="#222" stroke-width="0.1">220</text>
<text x="367.70" y="271.50" font-size="5.6" text-anchor="end" font-weight="normal" fill="#222" textLength="8.40" lengthAdjust="spacingAndGlyphs" style="white-space:pre" stroke="#222" stroke-width="0.1">240</text>
<text x="367.70" y="256.30" font-size="5.6" text-anchor="end" font-weight="normal" fill="#222" textLength="8.40" lengthAdjust="spacingAndGlyphs" style="white-space:pre" stroke="#222" stroke-width="0.1">260</text>
<text x="367.70" y="241.10" font-size="5.6" text-anchor="end" font-weight="normal" fill="#222" textLength="8.40" lengthAdjust="spacingAndGlyphs" style="white-space:pre" stroke="#222" stroke-width="0.1">280</text>
<line x1="380.70" y1="262.30" x2="380.70" y2="285.40" stroke="#222" stroke-width="0.9"/>
<line x1="378.70" y1="262.30" x2="382.70" y2="262.30" stroke="#222" stroke-width="0.9"/>
<line x1="378.70" y1="285.40" x2="382.70" y2="285.40" stroke="#222" stroke-width="0.9"/>
<line x1="392.50" y1="247.00" x2="392.50" y2="292.50" stroke="#222" stroke-width="0.9"/>
<line x1="390.50" y1="247.00" x2="394.50" y2="247.00" stroke="#222" stroke-width="0.9"/>
<line x1="390.50" y1="292.50" x2="394.50" y2="292.50" stroke="#222" stroke-width="0.9"/>
<line x1="404.20" y1="266.60" x2="404.20" y2="276.70" stroke="#222" stroke-width="0.9"/>
<line x1="402.20" y1="266.60" x2="406.20" y2="266.60" stroke="#222" stroke-width="0.9"/>
<line x1="402.20" y1="276.70" x2="406.20" y2="276.70" stroke="#222" stroke-width="0.9"/>
<line x1="418.40" y1="268.20" x2="418.40" y2="274.30" stroke="#222" stroke-width="0.9"/>
<line x1="416.40" y1="268.20" x2="420.40" y2="268.20" stroke="#222" stroke-width="0.9"/>
<line x1="416.40" y1="274.30" x2="420.40" y2="274.30" stroke="#222" stroke-width="0.9"/>
<line x1="433.00" y1="264.90" x2="433.00" y2="278.80" stroke="#222" stroke-width="0.9"/>
<line x1="431.00" y1="264.90" x2="435.00" y2="264.90" stroke="#222" stroke-width="0.9"/>
<line x1="431.00" y1="278.80" x2="435.00" y2="278.80" stroke="#222" stroke-width="0.9"/>
<rect x="257.20" y="169.30" width="196.60" height="132.50" stroke="#3a3a3a" stroke-width="1.3" fill="none"/>
<line x1="304.52" y1="301.80" x2="304.52" y2="299.60" stroke="#3a3a3a" stroke-width="0.8"/>
<line x1="351.64" y1="301.80" x2="351.64" y2="299.60" stroke="#3a3a3a" stroke-width="0.8"/>
<line x1="398.76" y1="301.80" x2="398.76" y2="299.60" stroke="#3a3a3a" stroke-width="0.8"/>
<line x1="257.20" y1="269.00" x2="259.40" y2="269.00" stroke="#3a3a3a" stroke-width="0.8"/>
<line x1="257.20" y1="236.20" x2="259.40" y2="236.20" stroke="#3a3a3a" stroke-width="0.8"/>
<line x1="257.20" y1="203.40" x2="259.40" y2="203.40" stroke="#3a3a3a" stroke-width="0.8"/>
<line x1="257.20" y1="170.60" x2="259.40" y2="170.60" stroke="#3a3a3a" stroke-width="0.8"/>
<text x="255.50" y="311.60" font-size="8.2" text-anchor="middle" font-weight="normal" fill="#111" textLength="5.00" lengthAdjust="spacingAndGlyphs" style="white-space:pre" stroke="#111" stroke-width="0.12">0</text>
<text x="301.30" y="311.60" font-size="8.2" text-anchor="middle" font-weight="normal" fill="#111" textLength="12.50" lengthAdjust="spacingAndGlyphs" style="white-space:pre" stroke="#111" stroke-width="0.12">0.2</text>
<text x="350.50" y="311.60" font-size="8.2" text-anchor="middle" font-weight="normal" fill="#111" textLength="12.50" lengthAdjust="spacingAndGlyphs" style="white-space:pre" stroke="#111" stroke-width="0.12">0.4</text>
<text x="399.50" y="311.60" font-size="8.2" text-anchor="middle" font-weight="normal" fill="#111" textLength="12.50" lengthAdjust="spacingAndGlyphs" style="white-space:pre" stroke="#111" stroke-width="0.12">0.6</text>
<text x="439.20" y="311.60" font-size="8.2" text-anchor="middle" font-weight="normal" fill="#111" textLength="12.50" lengthAdjust="spacingAndGlyphs" style="white-space:pre" stroke="#111" stroke-width="0.12">0.8</text>
<text x="254.40" y="304.70" font-size="8.2" text-anchor="end" font-weight="normal" fill="#111" textLength="17.51" lengthAdjust="spacingAndGlyphs" style="white-space:pre" stroke="#111" stroke-width="0.12">0.01</text>
<text x="254.40" y="271.90" font-size="8.2" text-anchor="end" font-weight="normal" fill="#111" textLength="17.51" lengthAdjust="spacingAndGlyphs" style="white-space:pre" stroke="#111" stroke-width="0.12">0.03</text>
<text x="254.40" y="239.10" font-size="8.2" text-anchor="end" font-weight="normal" fill="#111" textLength="17.51" lengthAdjust="spacingAndGlyphs" style="white-space:pre" stroke="#111" stroke-width="0.12">0.05</text>
<text x="254.40" y="206.30" font-size="8.2" text-anchor="end" font-weight="normal" fill="#111" textLength="17.51" lengthAdjust="spacingAndGlyphs" style="white-space:pre" stroke="#111" stroke-width="0.12">0.07</text>
<text x="254.40" y="173.50" font-size="8.2" text-anchor="end" font-weight="normal" fill="#111" textLength="17.51" lengthAdjust="spacingAndGlyphs" style="white-space:pre" stroke="#111" stroke-width="0.12">0.09</text>
<text x="267.20" y="182.60" font-size="8.7" text-anchor="start" font-weight="normal" fill="#111" textLength="111.80" lengthAdjust="spacingAndGlyphs" style="white-space:pre" stroke="#111" stroke-width="0.12">Mean=236±6 Ma,  95% conf.</text>
<text x="267.20" y="192.40" font-size="8.7" text-anchor="start" font-weight="normal" fill="#111" textLength="15.24" lengthAdjust="spacingAndGlyphs" style="white-space:pre" stroke="#111" stroke-width="0.12">n=5</text>
<text x="289.30" y="192.40" font-size="8.7" text-anchor="start" font-weight="normal" fill="#111" textLength="51.60" lengthAdjust="spacingAndGlyphs" style="white-space:pre" stroke="#111" stroke-width="0.12">MSWD=0.13</text>
<text x="288.50" y="279.60" font-size="7.2" text-anchor="middle" font-weight="normal" fill="#111" textLength="11.45" lengthAdjust="spacingAndGlyphs" style="white-space:pre" stroke="#111" stroke-width="0.18">150</text>
<text x="315.70" y="253.40" font-size="7.2" text-anchor="middle" font-weight="normal" fill="#111" textLength="11.45" lengthAdjust="spacingAndGlyphs" style="white-space:pre" stroke="#111" stroke-width="0.18">250</text>
<text x="346.60" y="225.60" font-size="7.2" text-anchor="middle" font-weight="normal" fill="#111" textLength="11.45" lengthAdjust="spacingAndGlyphs" style="white-space:pre" stroke="#111" stroke-width="0.18">350</text>
<text x="380.30" y="198.00" font-size="7.2" text-anchor="middle" font-weight="normal" fill="#111" textLength="11.45" lengthAdjust="spacingAndGlyphs" style="white-space:pre" stroke="#111" stroke-width="0.18">450</text>
<text x="411.40" y="175.50" font-size="7.2" text-anchor="middle" font-weight="normal" fill="#111" textLength="11.45" lengthAdjust="spacingAndGlyphs" style="white-space:pre" stroke="#111" stroke-width="0.18">550</text>
<text x="231.20" y="244.10" font-size="5.3" text-anchor="start" font-weight="normal" fill="#111" style="white-space:pre" stroke="#111" stroke-width="0.1">206</text>
<text x="238.00" y="247.80" font-size="10" text-anchor="start" font-weight="normal" fill="#111" style="white-space:pre" stroke="#111" stroke-width="0.25">Pb</text>
<line x1="230.30" y1="249.60" x2="251.60" y2="249.60" stroke="#333" stroke-width="1.2"/>
<text x="232.00" y="254.40" font-size="5.3" text-anchor="start" font-weight="normal" fill="#111" style="white-space:pre" stroke="#111" stroke-width="0.1">238</text>
<text x="239.60" y="258.10" font-size="10" text-anchor="start" font-weight="normal" fill="#111" style="white-space:pre" stroke="#111" stroke-width="0.25">U</text>
<text x="337.60" y="321.40" font-size="10" fill="#111"><tspan font-size="5.2" dy="-3.8">207</tspan><tspan dy="3.8">Pb/</tspan><tspan font-size="5.2" dy="-3.8">235</tspan><tspan dy="3.8">U</tspan></text>
<line x1="65.00" y1="439.20" x2="258.60" y2="326.20" stroke="#a6d5ea" stroke-width="0.9"/>
<line x1="65.00" y1="454.90" x2="258.60" y2="460.80" stroke="#a6d5ea" stroke-width="0.9"/>
<rect x="31.6" y="439.2" width="33.4" height="15.7" fill="none" stroke="#a6d5ea" stroke-width="0.9" stroke-dasharray="1.6 1.2"/>
<polyline points="31.10,459.80 31.29,459.39 31.47,458.99 31.66,458.58 31.86,458.18 32.05,457.77 32.24,457.36 32.44,456.95 32.64,456.54 32.84,456.13 33.05,455.72 33.25,455.31 33.46,454.90 33.67,454.48 33.88,454.07 34.09,453.66 34.31,453.24 34.53,452.83 34.75,452.41 34.97,451.99 35.19,451.58 35.42,451.16 35.65,450.74 35.88,450.32 36.11,449.90 36.35,449.48 36.59,449.06 36.83,448.64 37.07,448.21 37.31,447.79 37.56,447.37 37.81,446.94 38.06,446.52 38.32,446.09 38.58,445.66 38.84,445.24 39.10,444.81 39.37,444.38 39.63,443.95 39.90,443.52 40.18,443.09 40.45,442.66 40.73,442.23 41.01,441.80 41.30,441.36 41.58,440.93 41.87,440.50 42.17,440.06 42.46,439.62 42.76,439.19 43.06,438.75 43.37,438.31 43.67,437.87 43.98,437.43 44.30,436.99 44.61,436.55 44.93,436.11 45.26,435.67 45.58,435.23 45.91,434.79 46.25,434.34 46.58,433.90 46.92,433.45 47.26,433.00 47.61,432.56 47.96,432.11 48.31,431.66 48.67,431.21 49.03,430.76 49.39,430.31 49.76,429.86 50.13,429.41 50.50,428.96 50.88,428.51 51.26,428.05 51.65,427.60 52.04,427.14 52.43,426.69 52.83,426.23 53.23,425.77 53.64,425.31 54.05,424.86 54.46,424.40 54.88,423.94 55.30,423.48 55.72,423.01 56.15,422.55 56.59,422.09 57.02,421.62 57.47,421.16 57.91,420.69 58.37,420.23 58.82,419.76 59.28,419.29 59.75,418.83 60.22,418.36 60.69,417.89 61.17,417.42 61.65,416.95 62.14,416.48 62.64,416.00 63.13,415.53 63.64,415.06 64.14,414.58 64.66,414.11 65.18,413.63 65.70,413.15 66.23,412.68 66.76,412.20 67.30,411.72 67.84,411.24 68.39,410.76 68.95,410.28 69.51,409.79 70.08,409.31 70.65,408.83 71.23,408.34 71.81,407.86 72.40,407.37 72.99,406.89 73.59,406.40 74.20,405.91 74.81,405.42 75.43,404.93 76.06,404.44 76.69,403.95 77.32,403.46 77.97,402.97 78.62,402.47 79.27,401.98 79.94,401.48 80.61,400.99 81.28,400.49 81.97,399.99 82.66,399.50 83.35,399.00 84.05,398.50 84.76,398.00 85.48,397.50 86.21,396.99 86.94,396.49 87.68,395.99 88.42,395.48 89.18,394.98 89.94,394.47 90.71,393.97 91.48,393.46 92.26,392.95 93.06,392.44 93.86,391.93 94.66,391.42 95.48,390.91 96.30,390.40 97.13,389.88 97.97,389.37 98.82,388.86 99.68,388.34 100.54,387.83 101.41,387.31 102.30,386.79 103.19,386.27 104.09,385.75 104.99,385.23 105.91,384.71 106.84,384.19 107.77,383.67 108.72,383.14 109.67,382.62 110.64,382.09 111.61,381.57 112.59,381.04 113.59,380.51 114.59,379.99 115.60,379.46 116.62,378.93 117.66,378.40 118.70,377.87 119.75,377.33 120.82,376.80 121.89,376.27 122.97,375.73 124.07,375.19 125.18,374.66 126.29,374.12 127.42,373.58 128.56,373.04 129.71,372.50 130.87,371.96 132.05,371.42 133.23,370.88 134.43,370.34 135.64,369.79 136.86,369.25 138.09,368.70 139.34,368.15 140.59,367.61 141.86,367.06 143.14,366.51 144.44,365.96 145.75,365.41 147.07,364.86 148.40,364.30 149.75,363.75 151.11,363.20 152.48,362.64 153.87,362.09 155.27,361.53 156.69,360.97 158.12,360.41 159.56,359.85 161.02,359.29 162.49,358.73 163.97,358.17 165.48,357.61 166.99,357.04 168.52,356.48 170.07,355.91 171.63,355.35 173.21,354.78 174.80,354.21 176.41,353.64 178.03,353.07 179.67,352.50 181.33,351.93 183.00,351.36 184.69,350.78 186.40,350.21 188.12,349.63 189.86,349.06 191.62,348.48 193.39,347.90 195.19,347.32 197.00,346.74 198.82,346.16 200.67,345.58 202.53,345.00 204.42,344.41 206.32,343.83 208.24,343.24 210.18,342.66 212.14,342.07 214.11,341.48 216.11,340.89 218.13,340.30 219.40,339.94" fill="none" stroke="#000" stroke-width="1.0"/>
<circle cx="35.19" cy="451.58" r="1.7" stroke="#000" stroke-width="0.8" fill="#fff"/>
<circle cx="40.18" cy="443.09" r="1.7" stroke="#000" stroke-width="0.8" fill="#fff"/>
<circle cx="46.25" cy="434.34" r="1.7" stroke="#000" stroke-width="0.8" fill="#fff"/>
<circle cx="53.64" cy="425.31" r="1.7" stroke="#000" stroke-width="0.8" fill="#fff"/>
<circle cx="62.64" cy="416.00" r="1.7" stroke="#000" stroke-width="0.8" fill="#fff"/>
<circle cx="73.59" cy="406.40" r="1.7" stroke="#000" stroke-width="0.8" fill="#fff"/>
<circle cx="86.94" cy="396.49" r="1.7" stroke="#000" stroke-width="0.8" fill="#fff"/>
<circle cx="103.19" cy="386.27" r="1.7" stroke="#000" stroke-width="0.8" fill="#fff"/>
<circle cx="122.97" cy="375.73" r="1.7" stroke="#000" stroke-width="0.8" fill="#fff"/>
<circle cx="147.07" cy="364.86" r="1.7" stroke="#000" stroke-width="0.8" fill="#fff"/>
<circle cx="176.41" cy="353.64" r="1.7" stroke="#000" stroke-width="0.8" fill="#fff"/>
<circle cx="212.14" cy="342.07" r="1.7" stroke="#000" stroke-width="0.8" fill="#fff"/>
<ellipse cx="165.00" cy="357.40" rx="8.80" ry="3.40" transform="rotate(-20 165.00 357.40)" stroke="#000" stroke-width="0.9" fill="none"/>
<ellipse cx="152.00" cy="359.40" rx="4.80" ry="2.70" transform="rotate(-20 152.00 359.40)" stroke="#000" stroke-width="0.9" fill="none"/>
<ellipse cx="119.40" cy="379.40" rx="4.00" ry="2.00" transform="rotate(-10 119.40 379.40)" stroke="#000" stroke-width="0.9" fill="none"/>
<ellipse cx="106.80" cy="383.00" rx="4.20" ry="2.20" transform="rotate(-15 106.80 383.00)" stroke="#000" stroke-width="0.9" fill="none"/>
<ellipse cx="107.60" cy="394.00" rx="4.00" ry="1.50" transform="rotate(-5 107.60 394.00)" stroke="#000" stroke-width="0.9" fill="none"/>
<ellipse cx="57.60" cy="444.80" rx="3.00" ry="0.70" transform="rotate(0 57.60 444.80)" stroke="#000" stroke-width="0.6" fill="#000"/>
<ellipse cx="57.60" cy="449.40" rx="3.00" ry="0.70" transform="rotate(0 57.60 449.40)" stroke="#000" stroke-width="0.6" fill="#000"/>
<ellipse cx="43.50" cy="446.00" rx="0.70" ry="0.70" transform="rotate(0 43.50 446.00)" stroke="#000" stroke-width="0.5" fill="#000"/>
<ellipse cx="36.70" cy="454.00" rx="3.80" ry="1.10" transform="rotate(-10 36.70 454.00)" stroke="#000" stroke-width="0.6" fill="#8cc4d0"/>
<ellipse cx="40.00" cy="440.00" rx="1.30" ry="1.00" transform="rotate(-40 40.00 440.00)" stroke="#000" stroke-width="0.8" fill="#000"/>
<ellipse cx="44.00" cy="432.00" rx="1.20" ry="1.00" transform="rotate(-40 44.00 432.00)" stroke="#000" stroke-width="0.8" fill="#000"/>
<rect x="31.10" y="327.00" width="188.30" height="133.00" stroke="#3a3a3a" stroke-width="1.3" fill="none"/>
<line x1="31.10" y1="460.00" x2="31.10" y2="457.80" stroke="#3a3a3a" stroke-width="0.8"/>
<line x1="49.90" y1="460.00" x2="49.90" y2="457.80" stroke="#3a3a3a" stroke-width="0.8"/>
<line x1="68.70" y1="460.00" x2="68.70" y2="457.80" stroke="#3a3a3a" stroke-width="0.8"/>
<line x1="87.50" y1="460.00" x2="87.50" y2="457.80" stroke="#3a3a3a" stroke-width="0.8"/>
<line x1="106.30" y1="460.00" x2="106.30" y2="457.80" stroke="#3a3a3a" stroke-width="0.8"/>
<line x1="125.10" y1="460.00" x2="125.10" y2="457.80" stroke="#3a3a3a" stroke-width="0.8"/>
<line x1="143.90" y1="460.00" x2="143.90" y2="457.80" stroke="#3a3a3a" stroke-width="0.8"/>
<line x1="162.70" y1="460.00" x2="162.70" y2="457.80" stroke="#3a3a3a" stroke-width="0.8"/>
<line x1="181.50" y1="460.00" x2="181.50" y2="457.80" stroke="#3a3a3a" stroke-width="0.8"/>
<line x1="200.30" y1="460.00" x2="200.30" y2="457.80" stroke="#3a3a3a" stroke-width="0.8"/>
<line x1="219.10" y1="460.00" x2="219.10" y2="457.80" stroke="#3a3a3a" stroke-width="0.8"/>
<line x1="31.10" y1="433.70" x2="33.30" y2="433.70" stroke="#3a3a3a" stroke-width="0.8"/>
<line x1="31.10" y1="407.60" x2="33.30" y2="407.60" stroke="#3a3a3a" stroke-width="0.8"/>
<line x1="31.10" y1="381.50" x2="33.30" y2="381.50" stroke="#3a3a3a" stroke-width="0.8"/>
<line x1="31.10" y1="355.40" x2="33.30" y2="355.40" stroke="#3a3a3a" stroke-width="0.8"/>
<line x1="31.10" y1="329.30" x2="33.30" y2="329.30" stroke="#3a3a3a" stroke-width="0.8"/>
<text x="31.10" y="469.50" font-size="8.2" text-anchor="middle" font-weight="normal" fill="#111" textLength="5.00" lengthAdjust="spacingAndGlyphs" style="white-space:pre" stroke="#111" stroke-width="0.12">0</text>
<text x="68.70" y="469.50" font-size="8.2" text-anchor="middle" font-weight="normal" fill="#111" textLength="5.00" lengthAdjust="spacingAndGlyphs" style="white-space:pre" stroke="#111" stroke-width="0.12">2</text>
<text x="106.30" y="469.50" font-size="8.2" text-anchor="middle" font-weight="normal" fill="#111" textLength="5.00" lengthAdjust="spacingAndGlyphs" style="white-space:pre" stroke="#111" stroke-width="0.12">4</text>
<text x="143.90" y="469.50" font-size="8.2" text-anchor="middle" font-weight="normal" fill="#111" textLength="5.00" lengthAdjust="spacingAndGlyphs" style="white-space:pre" stroke="#111" stroke-width="0.12">6</text>
<text x="181.50" y="469.50" font-size="8.2" text-anchor="middle" font-weight="normal" fill="#111" textLength="5.00" lengthAdjust="spacingAndGlyphs" style="white-space:pre" stroke="#111" stroke-width="0.12">8</text>
<text x="217.60" y="469.50" font-size="8.2" text-anchor="middle" font-weight="normal" fill="#111" textLength="10.00" lengthAdjust="spacingAndGlyphs" style="white-space:pre" stroke="#111" stroke-width="0.12">10</text>
<text x="28.90" y="436.60" font-size="8.2" text-anchor="end" font-weight="normal" fill="#111" textLength="12.50" lengthAdjust="spacingAndGlyphs" style="white-space:pre" stroke="#111" stroke-width="0.12">0.1</text>
<text x="28.90" y="410.50" font-size="8.2" text-anchor="end" font-weight="normal" fill="#111" textLength="12.50" lengthAdjust="spacingAndGlyphs" style="white-space:pre" stroke="#111" stroke-width="0.12">0.2</text>
<text x="28.90" y="384.40" font-size="8.2" text-anchor="end" font-weight="normal" fill="#111" textLength="12.50" lengthAdjust="spacingAndGlyphs" style="white-space:pre" stroke="#111" stroke-width="0.12">0.3</text>
<text x="28.90" y="358.30" font-size="8.2" text-anchor="end" font-weight="normal" fill="#111" textLength="12.50" lengthAdjust="spacingAndGlyphs" style="white-space:pre" stroke="#111" stroke-width="0.12">0.4</text>
<text x="28.90" y="332.20" font-size="8.2" text-anchor="end" font-weight="normal" fill="#111" textLength="12.50" lengthAdjust="spacingAndGlyphs" style="white-space:pre" stroke="#111" stroke-width="0.12">0.5</text>
<text x="42.80" y="343.90" font-size="10.2" text-anchor="start" font-weight="normal" fill="#111" textLength="99.40" lengthAdjust="spacingAndGlyphs" style="white-space:pre" stroke="#111" stroke-width="0.05">DM-54-3 quartz vein</text>
<text x="42.80" y="354.60" font-size="10.2" text-anchor="start" font-weight="normal" fill="#111" textLength="51.40" lengthAdjust="spacingAndGlyphs" style="white-space:pre" stroke="#111" stroke-width="0.05">Ganqi area</text>
<text x="39.80" y="433.50" font-size="7.2" text-anchor="middle" font-weight="normal" fill="#111" textLength="11.45" lengthAdjust="spacingAndGlyphs" style="white-space:pre" stroke="#111" stroke-width="0.18">600</text>
<text x="53.80" y="415.80" font-size="7.2" text-anchor="middle" font-weight="normal" fill="#111" textLength="15.26" lengthAdjust="spacingAndGlyphs" style="white-space:pre" stroke="#111" stroke-width="0.18">1000</text>
<text x="77.30" y="396.20" font-size="7.2" text-anchor="middle" font-weight="normal" fill="#111" textLength="15.26" lengthAdjust="spacingAndGlyphs" style="white-space:pre" stroke="#111" stroke-width="0.18">1400</text>
<text x="113.90" y="374.20" font-size="7.2" text-anchor="middle" font-weight="normal" fill="#111" textLength="15.26" lengthAdjust="spacingAndGlyphs" style="white-space:pre" stroke="#111" stroke-width="0.18">1800</text>
<text x="166.60" y="351.80" font-size="7.2" text-anchor="middle" font-weight="normal" fill="#111" textLength="15.26" lengthAdjust="spacingAndGlyphs" style="white-space:pre" stroke="#111" stroke-width="0.18">2200</text>
<text x="3.70" y="387.90" font-size="5.3" text-anchor="start" font-weight="normal" fill="#111" style="white-space:pre" stroke="#111" stroke-width="0.1">206</text>
<text x="10.50" y="391.60" font-size="10" text-anchor="start" font-weight="normal" fill="#111" style="white-space:pre" stroke="#111" stroke-width="0.25">Pb</text>
<line x1="2.00" y1="393.90" x2="24.20" y2="393.90" stroke="#333" stroke-width="1.2"/>
<text x="5.00" y="398.40" font-size="5.3" text-anchor="start" font-weight="normal" fill="#111" style="white-space:pre" stroke="#111" stroke-width="0.1">238</text>
<text x="12.80" y="402.10" font-size="10" text-anchor="start" font-weight="normal" fill="#111" style="white-space:pre" stroke="#111" stroke-width="0.25">U</text>
<text x="108.10" y="481.00" font-size="10" fill="#111"><tspan font-size="5.2" dy="-3.8">207</tspan><tspan dy="3.8">Pb/</tspan><tspan font-size="5.2" dy="-3.8">235</tspan><tspan dy="3.8">U</tspan></text>
<polyline points="259.30,460.80 259.74,459.76 260.18,458.73 260.62,457.69 261.07,456.65 261.52,455.61 261.97,454.57 262.42,453.53 262.88,452.49 263.33,451.45 263.79,450.41 264.25,449.36 264.72,448.32 265.18,447.27 265.65,446.22 266.12,445.18 266.60,444.13 267.07,443.08 267.55,442.03 268.03,440.98 268.51,439.93 269.00,438.88 269.48,437.82 269.97,436.77 270.46,435.72 270.96,434.66 271.46,433.60 271.96,432.55 272.46,431.49 272.96,430.43 273.47,429.37 273.98,428.31 274.49,427.25 275.00,426.19 275.52,425.13 276.04,424.06 276.56,423.00 277.09,421.93 277.61,420.87 278.14,419.80 278.68,418.73 279.21,417.66 279.75,416.59 280.29,415.52 280.83,414.45 281.38,413.38 281.93,412.31 282.48,411.24 283.03,410.16 283.59,409.09 284.15,408.01 284.71,406.93 285.27,405.86 285.84,404.78 286.41,403.70 286.98,402.62 287.56,401.54 288.14,400.45 288.72,399.37 289.31,398.29 289.89,397.20 290.48,396.12 291.08,395.03 291.67,393.95 292.27,392.86 292.87,391.77 293.48,390.68 294.09,389.59 294.70,388.50 295.31,387.41 295.93,386.31 296.55,385.22 297.17,384.13 297.80,383.03 298.43,381.93 299.06,380.84 299.70,379.74 300.33,378.64 300.98,377.54 301.62,376.44 302.27,375.34 302.92,374.24 303.58,373.13 304.23,372.03 304.90,370.93 305.56,369.82 306.23,368.71 306.90,367.61 307.57,366.50 308.25,365.39 308.93,364.28 309.62,363.17 310.30,362.06 310.99,360.94 311.69,359.83 312.39,358.72 313.09,357.60 313.79,356.49 314.50,355.37 315.21,354.25 315.93,353.13 316.65,352.01 317.37,350.89 318.10,349.77 318.83,348.65 319.56,347.53 320.30,346.40 321.04,345.28 321.78,344.15 322.53,343.03 323.28,341.90 324.03,340.77 324.79,339.64 325.56,338.51 326.32,337.38 327.09,336.25 327.87,335.12 328.64,333.98 329.43,332.85 330.21,331.71 331.00,330.58 331.79,329.44 332.59,328.30 333.39,327.17 333.93,326.40" fill="none" stroke="#000" stroke-width="1.0"/>
<circle cx="263.79" cy="450.41" r="1.7" stroke="#000" stroke-width="0.8" fill="#fff"/>
<circle cx="268.51" cy="439.93" r="1.7" stroke="#000" stroke-width="0.8" fill="#fff"/>
<circle cx="273.47" cy="429.37" r="1.7" stroke="#000" stroke-width="0.8" fill="#fff"/>
<circle cx="278.68" cy="418.73" r="1.7" stroke="#000" stroke-width="0.8" fill="#fff"/>
<circle cx="284.15" cy="408.01" r="1.7" stroke="#000" stroke-width="0.8" fill="#fff"/>
<circle cx="289.89" cy="397.20" r="1.7" stroke="#000" stroke-width="0.8" fill="#fff"/>
<circle cx="295.93" cy="386.31" r="1.7" stroke="#000" stroke-width="0.8" fill="#fff"/>
<circle cx="302.27" cy="375.34" r="1.7" stroke="#000" stroke-width="0.8" fill="#fff"/>
<circle cx="308.93" cy="364.28" r="1.7" stroke="#000" stroke-width="0.8" fill="#fff"/>
<circle cx="315.93" cy="353.13" r="1.7" stroke="#000" stroke-width="0.8" fill="#fff"/>
<circle cx="323.28" cy="341.90" r="1.7" stroke="#000" stroke-width="0.8" fill="#fff"/>
<circle cx="331.00" cy="330.58" r="1.7" stroke="#000" stroke-width="0.8" fill="#fff"/>
<ellipse cx="282.80" cy="432.00" rx="17.70" ry="3.50" transform="rotate(-5 282.80 432.00)" stroke="#000" stroke-width="0.9" fill="none"/>
<ellipse cx="340.60" cy="386.00" rx="17.50" ry="3.80" transform="rotate(-5 340.60 386.00)" stroke="#000" stroke-width="0.9" fill="none"/>
<ellipse cx="337.80" cy="407.90" rx="6.30" ry="1.70" transform="rotate(0 337.80 407.90)" stroke="#000" stroke-width="0.9" fill="none"/>
<ellipse cx="321.40" cy="355.50" rx="3.80" ry="1.80" transform="rotate(-25 321.40 355.50)" stroke="#000" stroke-width="0.8" fill="none"/>
<ellipse cx="313.80" cy="355.30" rx="3.30" ry="1.80" transform="rotate(-55 313.80 355.30)" stroke="#000" stroke-width="0.8" fill="none"/>
<ellipse cx="303.50" cy="368.50" rx="3.60" ry="2.10" transform="rotate(-40 303.50 368.50)" stroke="#000" stroke-width="0.8" fill="none"/>
<ellipse cx="309.00" cy="366.00" rx="3.60" ry="2.00" transform="rotate(-40 309.00 366.00)" stroke="#000" stroke-width="0.8" fill="none"/>
<ellipse cx="298.50" cy="380.50" rx="3.00" ry="1.70" transform="rotate(-45 298.50 380.50)" stroke="#000" stroke-width="0.8" fill="none"/>
<ellipse cx="301.00" cy="377.00" rx="2.60" ry="1.50" transform="rotate(-45 301.00 377.00)" stroke="#000" stroke-width="0.8" fill="none"/>
<ellipse cx="281.80" cy="412.70" rx="1.40" ry="3.20" transform="rotate(30 281.80 412.70)" stroke="#000" stroke-width="0.9" fill="#111"/>
<ellipse cx="281.80" cy="414.00" rx="2.20" ry="13.30" transform="rotate(6 281.80 414.00)" stroke="#000" stroke-width="0.8" fill="none"/>
<ellipse cx="282.50" cy="408.00" rx="1.50" ry="4.00" transform="rotate(25 282.50 408.00)" stroke="#000" stroke-width="0.8" fill="none"/>
<rect x="357.90" y="390.80" width="92.20" height="67.20" stroke="#444" stroke-width="1.2" fill="#fff"/>
<line x1="358.40" y1="448.10" x2="449.60" y2="448.10" stroke="#d0d0d0" stroke-width="0.7"/>
<line x1="358.40" y1="438.00" x2="449.60" y2="438.00" stroke="#d0d0d0" stroke-width="0.7"/>
<line x1="358.40" y1="427.90" x2="449.60" y2="427.90" stroke="#d0d0d0" stroke-width="0.7"/>
<line x1="358.40" y1="417.80" x2="449.60" y2="417.80" stroke="#d0d0d0" stroke-width="0.7"/>
<line x1="358.40" y1="407.70" x2="449.60" y2="407.70" stroke="#d0d0d0" stroke-width="0.7"/>
<line x1="358.40" y1="397.60" x2="449.60" y2="397.60" stroke="#d0d0d0" stroke-width="0.7"/>
<line x1="358.40" y1="424.10" x2="447.00" y2="424.10" stroke="#a8dca8" stroke-width="2.4"/>
<text x="356.50" y="459.90" font-size="5.6" text-anchor="end" font-weight="normal" fill="#222" textLength="8.40" lengthAdjust="spacingAndGlyphs" style="white-space:pre" stroke="#222" stroke-width="0.1">160</text>
<text x="356.50" y="449.80" font-size="5.6" text-anchor="end" font-weight="normal" fill="#222" textLength="8.40" lengthAdjust="spacingAndGlyphs" style="white-space:pre" stroke="#222" stroke-width="0.1">180</text>
<text x="356.50" y="439.70" font-size="5.6" text-anchor="end" font-weight="normal" fill="#222" textLength="8.40" lengthAdjust="spacingAndGlyphs" style="white-space:pre" stroke="#222" stroke-width="0.1">200</text>
<text x="356.50" y="429.60" font-size="5.6" text-anchor="end" font-weight="normal" fill="#222" textLength="8.40" lengthAdjust="spacingAndGlyphs" style="white-space:pre" stroke="#222" stroke-width="0.1">220</text>
<text x="356.50" y="419.50" font-size="5.6" text-anchor="end" font-weight="normal" fill="#222" textLength="8.40" lengthAdjust="spacingAndGlyphs" style="white-space:pre" stroke="#222" stroke-width="0.1">240</text>
<text x="356.50" y="409.40" font-size="5.6" text-anchor="end" font-weight="normal" fill="#222" textLength="8.40" lengthAdjust="spacingAndGlyphs" style="white-space:pre" stroke="#222" stroke-width="0.1">260</text>
<text x="356.50" y="399.30" font-size="5.6" text-anchor="end" font-weight="normal" fill="#222" textLength="8.40" lengthAdjust="spacingAndGlyphs" style="white-space:pre" stroke="#222" stroke-width="0.1">280</text>
<line x1="373.30" y1="420.50" x2="373.30" y2="425.30" stroke="#222" stroke-width="0.9"/>
<line x1="371.30" y1="420.50" x2="375.30" y2="420.50" stroke="#222" stroke-width="0.9"/>
<line x1="371.30" y1="425.30" x2="375.30" y2="425.30" stroke="#222" stroke-width="0.9"/>
<line x1="388.10" y1="421.00" x2="388.10" y2="425.50" stroke="#222" stroke-width="0.9"/>
<line x1="386.10" y1="421.00" x2="390.10" y2="421.00" stroke="#222" stroke-width="0.9"/>
<line x1="386.10" y1="425.50" x2="390.10" y2="425.50" stroke="#222" stroke-width="0.9"/>
<line x1="403.50" y1="424.70" x2="403.50" y2="428.90" stroke="#222" stroke-width="0.9"/>
<line x1="401.50" y1="424.70" x2="405.50" y2="424.70" stroke="#222" stroke-width="0.9"/>
<line x1="401.50" y1="428.90" x2="405.50" y2="428.90" stroke="#222" stroke-width="0.9"/>
<line x1="419.40" y1="419.10" x2="419.40" y2="426.10" stroke="#222" stroke-width="0.9"/>
<line x1="417.40" y1="419.10" x2="421.40" y2="419.10" stroke="#222" stroke-width="0.9"/>
<line x1="417.40" y1="426.10" x2="421.40" y2="426.10" stroke="#222" stroke-width="0.9"/>
<line x1="434.70" y1="407.10" x2="434.70" y2="447.00" stroke="#222" stroke-width="0.9"/>
<line x1="432.70" y1="407.10" x2="436.70" y2="407.10" stroke="#222" stroke-width="0.9"/>
<line x1="432.70" y1="447.00" x2="436.70" y2="447.00" stroke="#222" stroke-width="0.9"/>
<rect x="258.60" y="326.40" width="198.20" height="134.60" stroke="#3a3a3a" stroke-width="1.3" fill="none"/>
<line x1="294.90" y1="461.00" x2="294.90" y2="458.80" stroke="#3a3a3a" stroke-width="0.8"/>
<line x1="330.50" y1="461.00" x2="330.50" y2="458.80" stroke="#3a3a3a" stroke-width="0.8"/>
<line x1="366.10" y1="461.00" x2="366.10" y2="458.80" stroke="#3a3a3a" stroke-width="0.8"/>
<line x1="401.70" y1="461.00" x2="401.70" y2="458.80" stroke="#3a3a3a" stroke-width="0.8"/>
<line x1="437.30" y1="461.00" x2="437.30" y2="458.80" stroke="#3a3a3a" stroke-width="0.8"/>
<line x1="258.60" y1="434.10" x2="260.80" y2="434.10" stroke="#3a3a3a" stroke-width="0.8"/>
<line x1="258.60" y1="407.40" x2="260.80" y2="407.40" stroke="#3a3a3a" stroke-width="0.8"/>
<line x1="258.60" y1="380.70" x2="260.80" y2="380.70" stroke="#3a3a3a" stroke-width="0.8"/>
<line x1="258.60" y1="354.00" x2="260.80" y2="354.00" stroke="#3a3a3a" stroke-width="0.8"/>
<text x="295.00" y="469.80" font-size="8.2" text-anchor="middle" font-weight="normal" fill="#111" textLength="12.50" lengthAdjust="spacingAndGlyphs" style="white-space:pre" stroke="#111" stroke-width="0.12">0.4</text>
<text x="330.80" y="469.80" font-size="8.2" text-anchor="middle" font-weight="normal" fill="#111" textLength="12.50" lengthAdjust="spacingAndGlyphs" style="white-space:pre" stroke="#111" stroke-width="0.12">0.8</text>
<text x="367.80" y="469.80" font-size="8.2" text-anchor="middle" font-weight="normal" fill="#111" textLength="12.50" lengthAdjust="spacingAndGlyphs" style="white-space:pre" stroke="#111" stroke-width="0.12">1.2</text>
<text x="403.40" y="469.80" font-size="8.2" text-anchor="middle" font-weight="normal" fill="#111" textLength="12.50" lengthAdjust="spacingAndGlyphs" style="white-space:pre" stroke="#111" stroke-width="0.12">1.6</text>
<text x="439.20" y="469.80" font-size="8.2" text-anchor="middle" font-weight="normal" fill="#111" textLength="12.50" lengthAdjust="spacingAndGlyphs" style="white-space:pre" stroke="#111" stroke-width="0.12">2.0</text>
<text x="257.00" y="437.00" font-size="8.2" text-anchor="end" font-weight="normal" fill="#111" textLength="17.51" lengthAdjust="spacingAndGlyphs" style="white-space:pre" stroke="#111" stroke-width="0.12">0.02</text>
<text x="257.00" y="410.30" font-size="8.2" text-anchor="end" font-weight="normal" fill="#111" textLength="17.51" lengthAdjust="spacingAndGlyphs" style="white-space:pre" stroke="#111" stroke-width="0.12">0.04</text>
<text x="257.00" y="383.60" font-size="8.2" text-anchor="end" font-weight="normal" fill="#111" textLength="17.51" lengthAdjust="spacingAndGlyphs" style="white-space:pre" stroke="#111" stroke-width="0.12">0.06</text>
<text x="257.00" y="356.90" font-size="8.2" text-anchor="end" font-weight="normal" fill="#111" textLength="17.51" lengthAdjust="spacingAndGlyphs" style="white-space:pre" stroke="#111" stroke-width="0.12">0.08</text>
<text x="338.00" y="342.80" font-size="8.7" text-anchor="start" font-weight="normal" fill="#111" textLength="112.80" lengthAdjust="spacingAndGlyphs" style="white-space:pre" stroke="#111" stroke-width="0.12">Mean=226±5 Ma,  95% conf.</text>
<text x="338.00" y="352.40" font-size="8.7" text-anchor="start" font-weight="normal" fill="#111" textLength="15.24" lengthAdjust="spacingAndGlyphs" style="white-space:pre" stroke="#111" stroke-width="0.12">n=5</text>
<text x="361.00" y="352.40" font-size="8.7" text-anchor="start" font-weight="normal" fill="#111" textLength="52.30" lengthAdjust="spacingAndGlyphs" style="white-space:pre" stroke="#111" stroke-width="0.12">MSWD=0.45</text>
<text x="267.60" y="427.90" font-size="7.2" text-anchor="middle" font-weight="normal" fill="#111" textLength="11.45" lengthAdjust="spacingAndGlyphs" style="white-space:pre" stroke="#111" stroke-width="0.18">150</text>
<text x="276.30" y="408.30" font-size="7.2" text-anchor="middle" font-weight="normal" fill="#111" textLength="11.45" lengthAdjust="spacingAndGlyphs" style="white-space:pre" stroke="#111" stroke-width="0.18">250</text>
<text x="289.10" y="385.60" font-size="7.2" text-anchor="middle" font-weight="normal" fill="#111" textLength="11.45" lengthAdjust="spacingAndGlyphs" style="white-space:pre" stroke="#111" stroke-width="0.18">350</text>
<text x="301.70" y="362.90" font-size="7.2" text-anchor="middle" font-weight="normal" fill="#111" textLength="11.45" lengthAdjust="spacingAndGlyphs" style="white-space:pre" stroke="#111" stroke-width="0.18">450</text>
<text x="315.60" y="341.10" font-size="7.2" text-anchor="middle" font-weight="normal" fill="#111" textLength="11.45" lengthAdjust="spacingAndGlyphs" style="white-space:pre" stroke="#111" stroke-width="0.18">550</text>
<text x="227.90" y="387.40" font-size="5.3" text-anchor="start" font-weight="normal" fill="#111" style="white-space:pre" stroke="#111" stroke-width="0.1">206</text>
<text x="235.00" y="391.10" font-size="10" text-anchor="start" font-weight="normal" fill="#111" style="white-space:pre" stroke="#111" stroke-width="0.25">Pb</text>
<line x1="225.70" y1="392.20" x2="247.20" y2="392.20" stroke="#333" stroke-width="1.2"/>
<text x="229.00" y="398.30" font-size="5.3" text-anchor="start" font-weight="normal" fill="#111" style="white-space:pre" stroke="#111" stroke-width="0.1">238</text>
<text x="236.80" y="402.00" font-size="10" text-anchor="start" font-weight="normal" fill="#111" style="white-space:pre" stroke="#111" stroke-width="0.25">U</text>
<text x="349.70" y="481.00" font-size="10" fill="#111"><tspan font-size="5.2" dy="-3.8">207</tspan><tspan dy="3.8">Pb/</tspan><tspan font-size="5.2" dy="-3.8">235</tspan><tspan dy="3.8">U</tspan></text>
<line x1="50.30" y1="610.60" x2="263.90" y2="491.00" stroke="#a6d5ea" stroke-width="0.9"/>
<line x1="50.30" y1="621.00" x2="263.90" y2="623.10" stroke="#a6d5ea" stroke-width="0.9"/>
<rect x="34.4" y="610.6" width="15.9" height="10.4" fill="none" stroke="#a6d5ea" stroke-width="0.9" stroke-dasharray="1.6 1.2"/>
<polyline points="34.31,622.94 34.51,622.49 34.73,622.03 34.94,621.57 35.15,621.11 35.37,620.65 35.59,620.19 35.81,619.73 36.03,619.27 36.26,618.81 36.49,618.35 36.72,617.88 36.95,617.42 37.18,616.95 37.42,616.49 37.66,616.02 37.90,615.55 38.14,615.08 38.39,614.61 38.64,614.15 38.89,613.67 39.14,613.20 39.40,612.73 39.66,612.26 39.92,611.79 40.18,611.31 40.45,610.84 40.72,610.36 40.99,609.89 41.27,609.41 41.54,608.93 41.82,608.45 42.11,607.97 42.39,607.49 42.68,607.01 42.97,606.53 43.27,606.05 43.56,605.57 43.86,605.08 44.17,604.60 44.47,604.11 44.78,603.63 45.09,603.14 45.41,602.65 45.73,602.17 46.05,601.68 46.37,601.19 46.70,600.70 47.03,600.21 47.37,599.71 47.70,599.22 48.05,598.73 48.39,598.23 48.74,597.74 49.09,597.24 49.44,596.75 49.80,596.25 50.16,595.75 50.53,595.25 50.90,594.75 51.27,594.25 51.65,593.75 52.03,593.25 52.41,592.74 52.80,592.24 53.19,591.74 53.58,591.23 53.98,590.73 54.39,590.22 54.79,589.71 55.20,589.20 55.62,588.69 56.04,588.18 56.46,587.67 56.89,587.16 57.32,586.65 57.76,586.14 58.20,585.62 58.64,585.11 59.09,584.59 59.55,584.08 60.01,583.56 60.47,583.04 60.94,582.52 61.41,582.00 61.88,581.48 62.37,580.96 62.85,580.44 63.34,579.92 63.84,579.40 64.34,578.87 64.84,578.35 65.36,577.82 65.87,577.29 66.39,576.77 66.92,576.24 67.45,575.71 67.99,575.18 68.53,574.65 69.07,574.12 69.63,573.58 70.18,573.05 70.75,572.52 71.32,571.98 71.89,571.45 72.47,570.91 73.06,570.37 73.65,569.83 74.25,569.29 74.85,568.75 75.46,568.21 76.08,567.67 76.70,567.13 77.33,566.59 77.96,566.04 78.60,565.50 79.25,564.95 79.90,564.40 80.56,563.86 81.23,563.31 81.90,562.76 82.58,562.21 83.27,561.66 83.96,561.11 84.66,560.55 85.37,560.00 86.08,559.45 86.80,558.89 87.53,558.33 88.26,557.78 89.01,557.22 89.75,556.66 90.51,556.10 91.28,555.54 92.05,554.98 92.83,554.42 93.62,553.85 94.41,553.29 95.22,552.73 96.03,552.16 96.85,551.59 97.67,551.03 98.51,550.46 99.35,549.89 100.20,549.32 101.07,548.75 101.93,548.18 102.81,547.60 103.70,547.03 104.59,546.45 105.50,545.88 106.41,545.30 107.33,544.73 108.26,544.15 109.20,543.57 110.15,542.99 111.11,542.41 112.08,541.83 113.06,541.24 114.05,540.66 115.05,540.08 116.05,539.49 117.07,538.90 118.10,538.32 119.14,537.73 120.18,537.14 121.24,536.55 122.31,535.96 123.39,535.37 124.48,534.77 125.58,534.18 126.69,533.59 127.82,532.99 128.95,532.40 130.09,531.80 131.25,531.20 132.42,530.60 133.60,530.00 134.79,529.40 135.99,528.80 137.21,528.20 138.43,527.59 139.67,526.99 140.92,526.38 142.19,525.77 143.46,525.17 144.75,524.56 146.05,523.95 147.37,523.34 148.70,522.73 150.04,522.12 151.39,521.50 152.76,520.89 154.14,520.27 155.53,519.66 156.94,519.04 158.36,518.42 159.80,517.80 161.25,517.18 162.71,516.56 164.19,515.94 165.69,515.32 167.20,514.69 168.72,514.07 170.26,513.44 171.81,512.82 173.38,512.19 174.97,511.56 176.57,510.93 178.18,510.30 179.82,509.67 181.46,509.04 183.13,508.40 184.81,507.77 186.51,507.13 188.22,506.50 189.95,505.86 191.70,505.22 193.47,504.58 195.25,503.94 197.05,503.30 198.87,502.66 200.71,502.01 202.57,501.37 204.44,500.72 206.33,500.08 208.24,499.43 210.17,498.78 212.12,498.13 214.09,497.48 216.08,496.83 218.09,496.18 220.11,495.52 221.30,495.14" fill="none" stroke="#000" stroke-width="1.0"/>
<circle cx="38.64" cy="614.15" r="1.7" stroke="#000" stroke-width="0.8" fill="#fff"/>
<circle cx="44.17" cy="604.60" r="1.7" stroke="#000" stroke-width="0.8" fill="#fff"/>
<circle cx="50.90" cy="594.75" r="1.7" stroke="#000" stroke-width="0.8" fill="#fff"/>
<circle cx="59.09" cy="584.59" r="1.7" stroke="#000" stroke-width="0.8" fill="#fff"/>
<circle cx="69.07" cy="574.12" r="1.7" stroke="#000" stroke-width="0.8" fill="#fff"/>
<circle cx="81.23" cy="563.31" r="1.7" stroke="#000" stroke-width="0.8" fill="#fff"/>
<circle cx="96.03" cy="552.16" r="1.7" stroke="#000" stroke-width="0.8" fill="#fff"/>
<circle cx="114.05" cy="540.66" r="1.7" stroke="#000" stroke-width="0.8" fill="#fff"/>
<circle cx="135.99" cy="528.80" r="1.7" stroke="#000" stroke-width="0.8" fill="#fff"/>
<circle cx="162.71" cy="516.56" r="1.7" stroke="#000" stroke-width="0.8" fill="#fff"/>
<circle cx="195.25" cy="503.94" r="1.7" stroke="#000" stroke-width="0.8" fill="#fff"/>
<ellipse cx="176.80" cy="524.50" rx="4.50" ry="1.70" transform="rotate(-15 176.80 524.50)" stroke="#000" stroke-width="0.9" fill="none"/>
<ellipse cx="126.40" cy="538.30" rx="3.20" ry="1.20" transform="rotate(-15 126.40 538.30)" stroke="#000" stroke-width="0.9" fill="none"/>
<ellipse cx="116.80" cy="544.30" rx="3.00" ry="1.30" transform="rotate(-10 116.80 544.30)" stroke="#000" stroke-width="0.9" fill="none"/>
<ellipse cx="107.70" cy="545.50" rx="3.00" ry="1.10" transform="rotate(-20 107.70 545.50)" stroke="#000" stroke-width="0.9" fill="#333"/>
<ellipse cx="90.10" cy="558.30" rx="2.50" ry="1.20" transform="rotate(-15 90.10 558.30)" stroke="#000" stroke-width="0.9" fill="none"/>
<ellipse cx="88.00" cy="575.10" rx="2.50" ry="1.00" transform="rotate(-10 88.00 575.10)" stroke="#000" stroke-width="0.9" fill="none"/>
<ellipse cx="63.70" cy="586.60" rx="1.50" ry="1.00" transform="rotate(0 63.70 586.60)" stroke="#000" stroke-width="0.8" fill="#000"/>
<ellipse cx="64.40" cy="578.70" rx="2.20" ry="0.90" transform="rotate(-40 64.40 578.70)" stroke="#000" stroke-width="0.8" fill="#000"/>
<ellipse cx="129.40" cy="551.80" rx="14.50" ry="1.40" transform="rotate(0 129.40 551.80)" stroke="#000" stroke-width="0.9" fill="none"/>
<ellipse cx="50.70" cy="595.70" rx="1.80" ry="13.00" transform="rotate(2 50.70 595.70)" stroke="#000" stroke-width="0.8" fill="none"/>
<ellipse cx="43.70" cy="613.20" rx="5.80" ry="2.60" transform="rotate(-30 43.70 613.20)" stroke="#000" stroke-width="0.9" fill="none"/>
<rect x="33.90" y="491.00" width="187.40" height="132.10" stroke="#3a3a3a" stroke-width="1.3" fill="none"/>
<line x1="34.10" y1="623.10" x2="34.10" y2="620.90" stroke="#3a3a3a" stroke-width="0.8"/>
<line x1="54.95" y1="623.10" x2="54.95" y2="620.90" stroke="#3a3a3a" stroke-width="0.8"/>
<line x1="75.80" y1="623.10" x2="75.80" y2="620.90" stroke="#3a3a3a" stroke-width="0.8"/>
<line x1="96.65" y1="623.10" x2="96.65" y2="620.90" stroke="#3a3a3a" stroke-width="0.8"/>
<line x1="117.50" y1="623.10" x2="117.50" y2="620.90" stroke="#3a3a3a" stroke-width="0.8"/>
<line x1="138.35" y1="623.10" x2="138.35" y2="620.90" stroke="#3a3a3a" stroke-width="0.8"/>
<line x1="159.20" y1="623.10" x2="159.20" y2="620.90" stroke="#3a3a3a" stroke-width="0.8"/>
<line x1="180.05" y1="623.10" x2="180.05" y2="620.90" stroke="#3a3a3a" stroke-width="0.8"/>
<line x1="200.90" y1="623.10" x2="200.90" y2="620.90" stroke="#3a3a3a" stroke-width="0.8"/>
<line x1="221.75" y1="623.10" x2="221.75" y2="620.90" stroke="#3a3a3a" stroke-width="0.8"/>
<line x1="33.90" y1="594.03" x2="36.10" y2="594.03" stroke="#3a3a3a" stroke-width="0.8"/>
<line x1="33.90" y1="564.66" x2="36.10" y2="564.66" stroke="#3a3a3a" stroke-width="0.8"/>
<line x1="33.90" y1="535.29" x2="36.10" y2="535.29" stroke="#3a3a3a" stroke-width="0.8"/>
<line x1="33.90" y1="505.92" x2="36.10" y2="505.92" stroke="#3a3a3a" stroke-width="0.8"/>
<text x="34.10" y="633.90" font-size="8.2" text-anchor="middle" font-weight="normal" fill="#111" textLength="5.00" lengthAdjust="spacingAndGlyphs" style="white-space:pre" stroke="#111" stroke-width="0.12">0</text>
<text x="75.80" y="633.90" font-size="8.2" text-anchor="middle" font-weight="normal" fill="#111" textLength="5.00" lengthAdjust="spacingAndGlyphs" style="white-space:pre" stroke="#111" stroke-width="0.12">2</text>
<text x="117.50" y="633.90" font-size="8.2" text-anchor="middle" font-weight="normal" fill="#111" textLength="5.00" lengthAdjust="spacingAndGlyphs" style="white-space:pre" stroke="#111" stroke-width="0.12">4</text>
<text x="159.20" y="633.90" font-size="8.2" text-anchor="middle" font-weight="normal" fill="#111" textLength="5.00" lengthAdjust="spacingAndGlyphs" style="white-space:pre" stroke="#111" stroke-width="0.12">6</text>
<text x="200.90" y="633.90" font-size="8.2" text-anchor="middle" font-weight="normal" fill="#111" textLength="5.00" lengthAdjust="spacingAndGlyphs" style="white-space:pre" stroke="#111" stroke-width="0.12">8</text>
<text x="32.00" y="596.93" font-size="8.2" text-anchor="end" font-weight="normal" fill="#111" textLength="12.50" lengthAdjust="spacingAndGlyphs" style="white-space:pre" stroke="#111" stroke-width="0.12">0.1</text>
<text x="32.00" y="567.56" font-size="8.2" text-anchor="end" font-weight="normal" fill="#111" textLength="12.50" lengthAdjust="spacingAndGlyphs" style="white-space:pre" stroke="#111" stroke-width="0.12">0.2</text>
<text x="32.00" y="538.19" font-size="8.2" text-anchor="end" font-weight="normal" fill="#111" textLength="12.50" lengthAdjust="spacingAndGlyphs" style="white-space:pre" stroke="#111" stroke-width="0.12">0.3</text>
<text x="32.00" y="508.82" font-size="8.2" text-anchor="end" font-weight="normal" fill="#111" textLength="12.50" lengthAdjust="spacingAndGlyphs" style="white-space:pre" stroke="#111" stroke-width="0.12">0.4</text>
<text x="44.80" y="507.40" font-size="10.2" text-anchor="start" font-weight="normal" fill="#111" textLength="98.50" lengthAdjust="spacingAndGlyphs" style="white-space:pre" stroke="#111" stroke-width="0.05">DM-77-2 quartz vein</text>
<text x="44.80" y="518.90" font-size="10.2" text-anchor="start" font-weight="normal" fill="#111" textLength="67.30" lengthAdjust="spacingAndGlyphs" style="white-space:pre" stroke="#111" stroke-width="0.05">Langshan area</text>
<text x="41.90" y="595.20" font-size="7.2" text-anchor="middle" font-weight="normal" fill="#111" textLength="11.45" lengthAdjust="spacingAndGlyphs" style="white-space:pre" stroke="#111" stroke-width="0.18">600</text>
<text x="60.80" y="575.00" font-size="7.2" text-anchor="middle" font-weight="normal" fill="#111" textLength="15.26" lengthAdjust="spacingAndGlyphs" style="white-space:pre" stroke="#111" stroke-width="0.18">1000</text>
<text x="87.30" y="552.90" font-size="7.2" text-anchor="middle" font-weight="normal" fill="#111" textLength="15.26" lengthAdjust="spacingAndGlyphs" style="white-space:pre" stroke="#111" stroke-width="0.18">1400</text>
<text x="126.40" y="528.80" font-size="7.2" text-anchor="middle" font-weight="normal" fill="#111" textLength="15.26" lengthAdjust="spacingAndGlyphs" style="white-space:pre" stroke="#111" stroke-width="0.18">1800</text>
<text x="186.40" y="504.20" font-size="7.2" text-anchor="middle" font-weight="normal" fill="#111" textLength="15.26" lengthAdjust="spacingAndGlyphs" style="white-space:pre" stroke="#111" stroke-width="0.18">2200</text>
<text x="6.30" y="544.00" font-size="5.3" text-anchor="start" font-weight="normal" fill="#111" style="white-space:pre" stroke="#111" stroke-width="0.1">206</text>
<text x="13.10" y="547.70" font-size="10" text-anchor="start" font-weight="normal" fill="#111" style="white-space:pre" stroke="#111" stroke-width="0.25">Pb</text>
<line x1="5.20" y1="548.70" x2="26.90" y2="548.70" stroke="#333" stroke-width="1.2"/>
<text x="8.00" y="554.20" font-size="5.3" text-anchor="start" font-weight="normal" fill="#111" style="white-space:pre" stroke="#111" stroke-width="0.1">238</text>
<text x="15.10" y="557.90" font-size="10" text-anchor="start" font-weight="normal" fill="#111" style="white-space:pre" stroke="#111" stroke-width="0.25">U</text>
<text x="109.40" y="641.30" font-size="10" fill="#111"><tspan font-size="5.2" dy="-3.8">207</tspan><tspan dy="3.8">Pb/</tspan><tspan font-size="5.2" dy="-3.8">235</tspan><tspan dy="3.8">U</tspan></text>
<ellipse cx="361.50" cy="555.00" rx="54.40" ry="25.80" transform="rotate(-25 361.50 555.00)" stroke="#000" stroke-width="0.9" fill="none"/>
<polyline points="264.56,598.04 265.28,596.99 266.01,595.94 266.74,594.90 267.47,593.85 268.21,592.80 268.94,591.75 269.68,590.70 270.41,589.65 271.15,588.60 271.89,587.55 272.63,586.50 273.38,585.45 274.12,584.39 274.87,583.34 275.62,582.29 276.36,581.24 277.11,580.18 277.87,579.13 278.62,578.08 279.37,577.02 280.13,575.97 280.89,574.91 281.65,573.86 282.41,572.80 283.17,571.75 283.93,570.69 284.70,569.64 285.47,568.58 286.23,567.52 287.00,566.47 287.78,565.41 288.55,564.35 289.32,563.29 290.10,562.23 290.88,561.17 291.66,560.12 292.44,559.06 293.22,558.00 294.00,556.94 294.79,555.88 295.57,554.81 296.36,553.75 297.15,552.69 297.94,551.63 298.74,550.57 299.53,549.51 300.33,548.44 301.12,547.38 301.92,546.32 302.72,545.25 303.53,544.19 304.33,543.12 305.13,542.06 305.94,540.99 306.75,539.93 307.56,538.86 308.37,537.80 309.19,536.73 310.00,535.66 310.82,534.60 311.64,533.53 312.46,532.46 313.28,531.39 314.10,530.32 314.93,529.26 315.75,528.19 316.58,527.12 317.41,526.05 318.24,524.98 319.07,523.91 319.91,522.84 320.74,521.76 321.58,520.69 322.42,519.62 323.26,518.55 324.11,517.48 324.95,516.40 325.80,515.33 326.64,514.26 327.49,513.18 328.34,512.11 329.20,511.04 330.05,509.96 330.91,508.89 331.77,507.81 332.63,506.73 333.49,505.66 334.35,504.58 335.21,503.51 336.08,502.43 336.95,501.35 337.82,500.27 338.69,499.20 339.56,498.12 340.44,497.04 341.31,495.96 342.19,494.88 343.07,493.80 343.96,492.72 344.84,491.64 345.36,491.00" fill="none" stroke="#000" stroke-width="1.0"/>
<circle cx="270.41" cy="589.65" r="1.7" stroke="#000" stroke-width="0.8" fill="#fff"/>
<circle cx="277.87" cy="579.13" r="1.7" stroke="#000" stroke-width="0.8" fill="#fff"/>
<circle cx="285.47" cy="568.58" r="1.7" stroke="#000" stroke-width="0.8" fill="#fff"/>
<circle cx="293.22" cy="558.00" r="1.7" stroke="#000" stroke-width="0.8" fill="#fff"/>
<circle cx="301.12" cy="547.38" r="1.7" stroke="#000" stroke-width="0.8" fill="#fff"/>
<circle cx="309.19" cy="536.73" r="1.7" stroke="#000" stroke-width="0.8" fill="#fff"/>
<circle cx="317.41" cy="526.05" r="1.7" stroke="#000" stroke-width="0.8" fill="#fff"/>
<circle cx="325.80" cy="515.33" r="1.7" stroke="#000" stroke-width="0.8" fill="#fff"/>
<circle cx="334.35" cy="504.58" r="1.7" stroke="#000" stroke-width="0.8" fill="#fff"/>
<circle cx="343.07" cy="493.80" r="1.7" stroke="#000" stroke-width="0.8" fill="#fff"/>
<line x1="263.90" y1="558.20" x2="455.00" y2="506.50" stroke="#000" stroke-width="0.9" stroke-dasharray="3 1.6"/>
<ellipse cx="388.00" cy="525.20" rx="17.00" ry="1.80" transform="rotate(-7 388.00 525.20)" stroke="#000" stroke-width="1.3" fill="none"/>
<circle cx="401.70" cy="523.40" r="1.4" stroke="#000" stroke-width="0.8" fill="#fff"/>
<line x1="299.50" y1="548.50" x2="283.00" y2="545.50" stroke="#000" stroke-width="0.9"/>
<path d="M281.5,545.2 L286.5,543 L285.5,547.5 Z" fill="#000"/>
<rect x="263.90" y="491.00" width="191.10" height="132.10" stroke="#3a3a3a" stroke-width="1.3" fill="none"/>
<line x1="295.80" y1="623.10" x2="295.80" y2="620.90" stroke="#3a3a3a" stroke-width="0.8"/>
<line x1="327.80" y1="623.10" x2="327.80" y2="620.90" stroke="#3a3a3a" stroke-width="0.8"/>
<line x1="359.80" y1="623.10" x2="359.80" y2="620.90" stroke="#3a3a3a" stroke-width="0.8"/>
<line x1="391.80" y1="623.10" x2="391.80" y2="620.90" stroke="#3a3a3a" stroke-width="0.8"/>
<line x1="423.80" y1="623.10" x2="423.80" y2="620.90" stroke="#3a3a3a" stroke-width="0.8"/>
<line x1="263.90" y1="590.08" x2="266.10" y2="590.08" stroke="#3a3a3a" stroke-width="0.8"/>
<line x1="263.90" y1="557.06" x2="266.10" y2="557.06" stroke="#3a3a3a" stroke-width="0.8"/>
<line x1="263.90" y1="524.04" x2="266.10" y2="524.04" stroke="#3a3a3a" stroke-width="0.8"/>
<text x="264.90" y="633.90" font-size="8.2" text-anchor="middle" font-weight="normal" fill="#111" textLength="17.51" lengthAdjust="spacingAndGlyphs" style="white-space:pre" stroke="#111" stroke-width="0.12">0.15</text>
<text x="294.00" y="633.90" font-size="8.2" text-anchor="middle" font-weight="normal" fill="#111" textLength="17.51" lengthAdjust="spacingAndGlyphs" style="white-space:pre" stroke="#111" stroke-width="0.12">0.25</text>
<text x="329.10" y="633.90" font-size="8.2" text-anchor="middle" font-weight="normal" fill="#111" textLength="17.51" lengthAdjust="spacingAndGlyphs" style="white-space:pre" stroke="#111" stroke-width="0.12">0.35</text>
<text x="360.50" y="633.90" font-size="8.2" text-anchor="middle" font-weight="normal" fill="#111" textLength="17.51" lengthAdjust="spacingAndGlyphs" style="white-space:pre" stroke="#111" stroke-width="0.12">0.45</text>
<text x="392.50" y="633.90" font-size="8.2" text-anchor="middle" font-weight="normal" fill="#111" textLength="17.51" lengthAdjust="spacingAndGlyphs" style="white-space:pre" stroke="#111" stroke-width="0.12">0.55</text>
<text x="424.50" y="633.90" font-size="8.2" text-anchor="middle" font-weight="normal" fill="#111" textLength="17.51" lengthAdjust="spacingAndGlyphs" style="white-space:pre" stroke="#111" stroke-width="0.12">0.65</text>
<text x="449.30" y="633.90" font-size="8.2" text-anchor="middle" font-weight="normal" fill="#111" textLength="17.51" lengthAdjust="spacingAndGlyphs" style="white-space:pre" stroke="#111" stroke-width="0.12">0.75</text>
<text x="261.20" y="626.00" font-size="8.2" text-anchor="end" font-weight="normal" fill="#111" textLength="22.51" lengthAdjust="spacingAndGlyphs" style="white-space:pre" stroke="#111" stroke-width="0.12">0.015</text>
<text x="261.20" y="592.98" font-size="8.2" text-anchor="end" font-weight="normal" fill="#111" textLength="22.51" lengthAdjust="spacingAndGlyphs" style="white-space:pre" stroke="#111" stroke-width="0.12">0.025</text>
<text x="261.20" y="559.96" font-size="8.2" text-anchor="end" font-weight="normal" fill="#111" textLength="22.51" lengthAdjust="spacingAndGlyphs" style="white-space:pre" stroke="#111" stroke-width="0.12">0.035</text>
<text x="261.20" y="526.94" font-size="8.2" text-anchor="end" font-weight="normal" fill="#111" textLength="22.51" lengthAdjust="spacingAndGlyphs" style="white-space:pre" stroke="#111" stroke-width="0.12">0.045</text>
<text x="261.20" y="493.92" font-size="8.2" text-anchor="end" font-weight="normal" fill="#111" textLength="22.51" lengthAdjust="spacingAndGlyphs" style="white-space:pre" stroke="#111" stroke-width="0.12">0.055</text>
<text x="315.50" y="598.80" font-size="8.7" text-anchor="start" font-weight="normal" fill="#111" textLength="89.40" lengthAdjust="spacingAndGlyphs" style="white-space:pre" stroke="#111" stroke-width="0.12">Intercepts at 235±4 Ma</text>
<text x="315.50" y="609.20" font-size="8.7" text-anchor="start" font-weight="normal" fill="#111" textLength="47.14" lengthAdjust="spacingAndGlyphs" style="white-space:pre" stroke="#111" stroke-width="0.12">MSWD=1.4</text>
<text x="270.90" y="579.00" font-size="7.8" text-anchor="middle" font-weight="normal" fill="#111" textLength="13.45" lengthAdjust="spacingAndGlyphs" style="white-space:pre" stroke="#111" stroke-width="0.18">180</text>
<text x="284.00" y="561.10" font-size="7.8" text-anchor="middle" font-weight="normal" fill="#111" textLength="13.45" lengthAdjust="spacingAndGlyphs" style="white-space:pre" stroke="#111" stroke-width="0.18">220</text>
<text x="300.30" y="538.20" font-size="7.8" text-anchor="middle" font-weight="normal" fill="#111" textLength="13.45" lengthAdjust="spacingAndGlyphs" style="white-space:pre" stroke="#111" stroke-width="0.18">260</text>
<text x="318.00" y="515.20" font-size="7.8" text-anchor="middle" font-weight="normal" fill="#111" textLength="13.45" lengthAdjust="spacingAndGlyphs" style="white-space:pre" stroke="#111" stroke-width="0.18">300</text>
<text x="281.30" y="544.80" font-size="7.6" text-anchor="middle" font-weight="normal" fill="#111" textLength="31.00" lengthAdjust="spacingAndGlyphs" style="white-space:pre" stroke="#111" stroke-width="0.18">236±2 Ma</text>
<text x="232.00" y="535.00" font-size="5.3" text-anchor="start" font-weight="normal" fill="#111" style="white-space:pre" stroke="#111" stroke-width="0.1">206</text>
<text x="239.00" y="538.70" font-size="10" text-anchor="start" font-weight="normal" fill="#111" style="white-space:pre" stroke="#111" stroke-width="0.25">Pb</text>
<line x1="231.40" y1="539.70" x2="253.30" y2="539.70" stroke="#333" stroke-width="1.2"/>
<text x="233.00" y="545.10" font-size="5.3" text-anchor="start" font-weight="normal" fill="#111" style="white-space:pre" stroke="#111" stroke-width="0.1">238</text>
<text x="241.20" y="548.80" font-size="10" text-anchor="start" font-weight="normal" fill="#111" style="white-space:pre" stroke="#111" stroke-width="0.25">U</text>
<text x="346.00" y="647.30" font-size="10" fill="#111"><tspan font-size="5.2" dy="-3.8">207</tspan><tspan dy="3.8">Pb/</tspan><tspan font-size="5.2" dy="-3.8">235</tspan><tspan dy="3.8">U</tspan></text>
</svg></body></html>
